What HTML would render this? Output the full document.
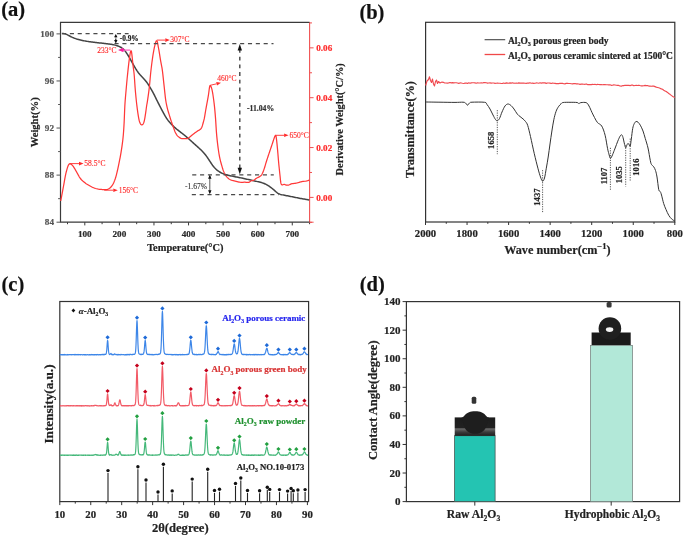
<!DOCTYPE html>
<html><head><meta charset="utf-8"><style>
html,body{margin:0;padding:0;background:#fff;}
svg{display:block;filter:blur(0.35px);}
text{font-family:"Liberation Serif", serif;}
</style></head><body>
<svg width="685" height="537" viewBox="0 0 685 537">
<rect width="685" height="537" fill="#fff"/>
<line x1="309.6" y1="22.3" x2="309.6" y2="222.2" stroke="#f05050" stroke-width="1.1"/>
<path d="M309.6,22.3 H60.5 V222.2 H309.6" fill="none" stroke="#3a3a3a" stroke-width="1.2"/>
<line x1="67.51" y1="222.2" x2="67.51" y2="224.2" stroke="#3a3a3a" stroke-width="1"/>
<line x1="84.8" y1="222.2" x2="84.8" y2="225.4" stroke="#3a3a3a" stroke-width="1"/>
<text x="84.8" y="237.3" font-size="9.2" font-weight="bold" fill="#2a2a2a" text-anchor="middle" stroke="#2a2a2a" stroke-width="0.2">100</text>
<line x1="102.09" y1="222.2" x2="102.09" y2="224.2" stroke="#3a3a3a" stroke-width="1"/>
<line x1="119.38" y1="222.2" x2="119.38" y2="225.4" stroke="#3a3a3a" stroke-width="1"/>
<text x="119.38" y="237.3" font-size="9.2" font-weight="bold" fill="#2a2a2a" text-anchor="middle" stroke="#2a2a2a" stroke-width="0.2">200</text>
<line x1="136.67" y1="222.2" x2="136.67" y2="224.2" stroke="#3a3a3a" stroke-width="1"/>
<line x1="153.96" y1="222.2" x2="153.96" y2="225.4" stroke="#3a3a3a" stroke-width="1"/>
<text x="153.96" y="237.3" font-size="9.2" font-weight="bold" fill="#2a2a2a" text-anchor="middle" stroke="#2a2a2a" stroke-width="0.2">300</text>
<line x1="171.25" y1="222.2" x2="171.25" y2="224.2" stroke="#3a3a3a" stroke-width="1"/>
<line x1="188.54" y1="222.2" x2="188.54" y2="225.4" stroke="#3a3a3a" stroke-width="1"/>
<text x="188.54" y="237.3" font-size="9.2" font-weight="bold" fill="#2a2a2a" text-anchor="middle" stroke="#2a2a2a" stroke-width="0.2">400</text>
<line x1="205.83" y1="222.2" x2="205.83" y2="224.2" stroke="#3a3a3a" stroke-width="1"/>
<line x1="223.12" y1="222.2" x2="223.12" y2="225.4" stroke="#3a3a3a" stroke-width="1"/>
<text x="223.12" y="237.3" font-size="9.2" font-weight="bold" fill="#2a2a2a" text-anchor="middle" stroke="#2a2a2a" stroke-width="0.2">500</text>
<line x1="240.41" y1="222.2" x2="240.41" y2="224.2" stroke="#3a3a3a" stroke-width="1"/>
<line x1="257.7" y1="222.2" x2="257.7" y2="225.4" stroke="#3a3a3a" stroke-width="1"/>
<text x="257.7" y="237.3" font-size="9.2" font-weight="bold" fill="#2a2a2a" text-anchor="middle" stroke="#2a2a2a" stroke-width="0.2">600</text>
<line x1="274.99" y1="222.2" x2="274.99" y2="224.2" stroke="#3a3a3a" stroke-width="1"/>
<line x1="292.28" y1="222.2" x2="292.28" y2="225.4" stroke="#3a3a3a" stroke-width="1"/>
<text x="292.28" y="237.3" font-size="9.2" font-weight="bold" fill="#2a2a2a" text-anchor="middle" stroke="#2a2a2a" stroke-width="0.2">700</text>
<line x1="309.57" y1="222.2" x2="309.57" y2="224.2" stroke="#3a3a3a" stroke-width="1"/>
<line x1="56.5" y1="222.2" x2="60.5" y2="222.2" stroke="#555" stroke-width="1"/>
<text x="54" y="225.3" font-size="9.2" font-weight="bold" fill="#555" text-anchor="end" stroke="#555" stroke-width="0.2">84</text>
<line x1="58.1" y1="198.66" x2="60.5" y2="198.66" stroke="#555" stroke-width="1"/>
<line x1="56.5" y1="175.12" x2="60.5" y2="175.12" stroke="#555" stroke-width="1"/>
<text x="54" y="178.22" font-size="9.2" font-weight="bold" fill="#555" text-anchor="end" stroke="#555" stroke-width="0.2">88</text>
<line x1="58.1" y1="151.58" x2="60.5" y2="151.58" stroke="#555" stroke-width="1"/>
<line x1="56.5" y1="128.04" x2="60.5" y2="128.04" stroke="#555" stroke-width="1"/>
<text x="54" y="131.14" font-size="9.2" font-weight="bold" fill="#555" text-anchor="end" stroke="#555" stroke-width="0.2">92</text>
<line x1="58.1" y1="104.5" x2="60.5" y2="104.5" stroke="#555" stroke-width="1"/>
<line x1="56.5" y1="80.96" x2="60.5" y2="80.96" stroke="#555" stroke-width="1"/>
<text x="54" y="84.06" font-size="9.2" font-weight="bold" fill="#555" text-anchor="end" stroke="#555" stroke-width="0.2">96</text>
<line x1="58.1" y1="57.42" x2="60.5" y2="57.42" stroke="#555" stroke-width="1"/>
<line x1="56.5" y1="33.88" x2="60.5" y2="33.88" stroke="#555" stroke-width="1"/>
<text x="54" y="36.98" font-size="9.2" font-weight="bold" fill="#555" text-anchor="end" stroke="#555" stroke-width="0.2">100</text>
<line x1="309.6" y1="222.33" x2="312" y2="222.33" stroke="#f05050" stroke-width="1"/>
<line x1="309.6" y1="197.4" x2="313.6" y2="197.4" stroke="#f05050" stroke-width="1"/>
<text x="316.3" y="200.5" font-size="9.1" font-weight="bold" fill="#ff2a2a" text-anchor="start" stroke="#ff2a2a" stroke-width="0.2">0.00</text>
<line x1="309.6" y1="172.47" x2="312" y2="172.47" stroke="#f05050" stroke-width="1"/>
<line x1="309.6" y1="147.55" x2="313.6" y2="147.55" stroke="#f05050" stroke-width="1"/>
<text x="316.3" y="150.65" font-size="9.1" font-weight="bold" fill="#ff2a2a" text-anchor="start" stroke="#ff2a2a" stroke-width="0.2">0.02</text>
<line x1="309.6" y1="122.62" x2="312" y2="122.62" stroke="#f05050" stroke-width="1"/>
<line x1="309.6" y1="97.7" x2="313.6" y2="97.7" stroke="#f05050" stroke-width="1"/>
<text x="316.3" y="100.8" font-size="9.1" font-weight="bold" fill="#ff2a2a" text-anchor="start" stroke="#ff2a2a" stroke-width="0.2">0.04</text>
<line x1="309.6" y1="72.78" x2="312" y2="72.78" stroke="#f05050" stroke-width="1"/>
<line x1="309.6" y1="47.85" x2="313.6" y2="47.85" stroke="#f05050" stroke-width="1"/>
<text x="316.3" y="50.95" font-size="9.1" font-weight="bold" fill="#ff2a2a" text-anchor="start" stroke="#ff2a2a" stroke-width="0.2">0.06</text>
<line x1="309.6" y1="22.92" x2="312" y2="22.92" stroke="#f05050" stroke-width="1"/>
<line x1="309.6" y1="222.2" x2="313.6" y2="222.2" stroke="#f05050" stroke-width="1"/>
<text x="185.3" y="251" font-size="10.4" font-weight="bold" fill="#222" text-anchor="middle" stroke="#222" stroke-width="0.2">Temperature(°C)</text>
<text x="38.2" y="122.3" font-size="10.6" font-weight="bold" fill="#222" text-anchor="middle" transform="rotate(-90 38.2 122.3)" stroke="#222" stroke-width="0.2">Weight(%)</text>
<text x="343.2" y="119.3" font-size="10.4" font-weight="bold" fill="#222" text-anchor="middle" transform="rotate(-90 343.2 119.3)" stroke="#222" stroke-width="0.2">Derivative Weight(°C/%)</text>
<text x="1.2" y="15.6" font-size="20.5" font-weight="bold" fill="#111" text-anchor="start" stroke="#111" stroke-width="0.2">(a)</text>
<path d="M61.8,33.5 L63.25,33.58 L63.99,33.68 L64.83,33.84 L65.72,34.09 L66.62,34.42 L67.51,34.83 L68.39,35.29 L69.26,35.77 L70.13,36.26 L71.02,36.72 L71.92,37.15 L72.83,37.55 L73.76,37.93 L74.7,38.28 L75.65,38.6 L76.6,38.92 L77.56,39.21 L78.52,39.49 L79.49,39.76 L80.46,40.01 L81.43,40.24 L82.41,40.47 L83.39,40.68 L84.37,40.87 L85.35,41.06 L86.34,41.23 L87.33,41.38 L88.32,41.53 L89.32,41.67 L90.31,41.81 L91.3,41.94 L92.3,42.06 L93.29,42.19 L94.29,42.31 L95.28,42.43 L96.28,42.54 L97.28,42.66 L98.27,42.78 L99.27,42.89 L100.26,43.01 L101.26,43.12 L102.26,43.24 L103.25,43.35 L104.25,43.46 L105.24,43.57 L106.24,43.68 L107.24,43.79 L108.23,43.91 L109.23,44.03 L110.22,44.17 L111.21,44.31 L112.2,44.47 L113.18,44.66 L114.16,44.87 L115.13,45.12 L116.09,45.39 L117.04,45.7 L117.98,46.04 L118.91,46.4 L119.82,46.8 L120.71,47.25 L121.56,47.75 L122.38,48.31 L123.14,48.94 L123.86,49.62 L124.53,50.35 L125.17,51.11 L125.77,51.91 L126.35,52.73 L126.9,53.56 L127.44,54.41 L127.97,55.26 L128.49,56.12 L129,56.98 L129.5,57.85 L130,58.72 L130.49,59.59 L130.98,60.46 L131.47,61.34 L131.96,62.21 L132.45,63.09 L132.94,63.96 L133.44,64.83 L133.93,65.7 L134.44,66.57 L134.95,67.43 L135.47,68.29 L135.99,69.15 L136.53,69.99 L137.07,70.83 L137.64,71.66 L138.21,72.48 L138.81,73.28 L139.44,74.06 L140.09,74.81 L140.77,75.55 L141.46,76.27 L142.16,76.99 L142.86,77.71 L143.54,78.44 L144.22,79.18 L144.88,79.93 L145.52,80.7 L146.14,81.49 L146.74,82.29 L147.32,83.11 L147.88,83.94 L148.42,84.78 L148.96,85.62 L149.49,86.47 L150.01,87.33 L150.53,88.18 L151.05,89.05 L151.56,89.91 L152.06,90.78 L152.55,91.65 L153.02,92.53 L153.49,93.42 L153.95,94.31 L154.4,95.21 L154.84,96.11 L155.29,97.01 L155.73,97.91 L156.17,98.81 L156.61,99.71 L157.06,100.6 L157.51,101.5 L157.96,102.39 L158.42,103.29 L158.87,104.18 L159.33,105.07 L159.78,105.97 L160.24,106.86 L160.7,107.75 L161.16,108.64 L161.63,109.53 L162.1,110.41 L162.57,111.3 L163.04,112.18 L163.52,113.07 L164,113.94 L164.49,114.82 L164.98,115.69 L165.49,116.55 L166.02,117.41 L166.56,118.25 L167.13,119.07 L167.72,119.88 L168.33,120.67 L168.97,121.44 L169.61,122.21 L170.28,122.96 L170.95,123.7 L171.63,124.44 L172.32,125.16 L173.03,125.87 L173.75,126.57 L174.48,127.25 L175.23,127.92 L175.99,128.57 L176.76,129.21 L177.54,129.84 L178.33,130.46 L179.12,131.07 L179.92,131.68 L180.71,132.29 L181.51,132.9 L182.3,133.52 L183.09,134.13 L183.88,134.76 L184.66,135.39 L185.43,136.02 L186.2,136.66 L186.97,137.31 L187.73,137.96 L188.49,138.62 L189.24,139.28 L189.98,139.95 L190.72,140.63 L191.46,141.31 L192.2,141.99 L192.94,142.66 L193.68,143.34 L194.43,144 L195.18,144.67 L195.93,145.34 L196.68,146 L197.43,146.67 L198.17,147.34 L198.91,148.02 L199.65,148.7 L200.38,149.38 L201.1,150.07 L201.82,150.78 L202.52,151.49 L203.21,152.22 L203.88,152.96 L204.53,153.72 L205.17,154.49 L205.79,155.28 L206.39,156.08 L206.97,156.9 L207.55,157.72 L208.11,158.55 L208.66,159.38 L209.21,160.22 L209.76,161.06 L210.3,161.91 L210.85,162.75 L211.4,163.58 L211.96,164.41 L212.53,165.23 L213.13,166.04 L213.75,166.82 L214.4,167.58 L215.08,168.31 L215.79,169.01 L216.53,169.68 L217.3,170.32 L218.09,170.92 L218.92,171.49 L219.76,172.02 L220.63,172.51 L221.51,172.97 L222.42,173.38 L223.35,173.76 L224.29,174.1 L225.24,174.41 L226.19,174.7 L227.16,174.98 L228.13,175.23 L229.1,175.47 L230.08,175.7 L231.06,175.91 L232.04,176.12 L233.02,176.32 L234,176.51 L234.99,176.71 L235.97,176.9 L236.95,177.09 L237.94,177.29 L238.92,177.48 L239.9,177.68 L240.89,177.88 L241.87,178.09 L242.85,178.29 L243.83,178.5 L244.81,178.72 L245.79,178.93 L246.77,179.15 L247.74,179.38 L248.72,179.6 L249.7,179.82 L250.68,180.05 L251.65,180.27 L252.63,180.49 L253.61,180.71 L254.59,180.94 L255.56,181.16 L256.54,181.39 L257.52,181.62 L258.49,181.85 L259.46,182.09 L260.44,182.33 L261.4,182.59 L262.36,182.87 L263.31,183.19 L264.24,183.54 L265.15,183.94 L266.04,184.39 L266.91,184.87 L267.77,185.39 L268.61,185.93 L269.45,186.48 L270.27,187.05 L271.08,187.64 L271.87,188.25 L272.65,188.88 L273.42,189.52 L274.18,190.18 L274.93,190.85 L275.67,191.51 L276.43,192.15 L277.2,192.76 L278.01,193.3 L278.86,193.75 L279.75,194.12 L280.68,194.42 L281.64,194.66 L282.61,194.87 L283.59,195.06 L284.57,195.26 L285.56,195.45 L286.54,195.64 L287.52,195.83 L288.51,196.03 L289.49,196.22 L290.47,196.42 L291.46,196.62 L292.44,196.82 L293.42,197.02 L294.4,197.22 L295.39,197.42 L296.37,197.62 L297.35,197.82 L298.33,198.02 L299.32,198.21 L300.3,198.4 L301.29,198.59 L302.27,198.77 L303.26,198.94 L304.24,199.11 L305.21,199.27 L306.14,199.42 L307.01,199.55 L307.75,199.67 L309.2,199.9" fill="none" stroke="#444" stroke-width="1.5" stroke-linejoin="round"/>
<path d="M60.7,201 L60.9,199.96 L61.08,199.03 L61.27,198.05 L61.46,197.07 L61.65,196.08 L61.83,195.1 L62.02,194.12 L62.21,193.14 L62.4,192.15 L62.59,191.17 L62.77,190.19 L62.96,189.2 L63.14,188.22 L63.32,187.23 L63.5,186.25 L63.67,185.26 L63.84,184.27 L64.01,183.29 L64.19,182.3 L64.36,181.32 L64.53,180.33 L64.71,179.35 L64.89,178.36 L65.08,177.38 L65.27,176.39 L65.47,175.41 L65.68,174.43 L65.9,173.46 L66.13,172.48 L66.37,171.51 L66.62,170.54 L66.88,169.58 L67.15,168.61 L67.44,167.66 L67.76,166.71 L68.12,165.78 L68.56,164.89 L69.13,164.14 L69.88,163.76 L70.71,163.92 L71.48,164.47 L72.17,165.18 L72.83,165.94 L73.44,166.73 L74.01,167.55 L74.54,168.4 L75.04,169.26 L75.54,170.13 L76.03,171.01 L76.53,171.87 L77.02,172.74 L77.51,173.62 L77.99,174.5 L78.47,175.38 L78.96,176.25 L79.47,177.11 L80.01,177.95 L80.61,178.75 L81.26,179.51 L81.96,180.22 L82.69,180.9 L83.46,181.55 L84.23,182.19 L85.01,182.81 L85.8,183.41 L86.63,183.98 L87.48,184.5 L88.35,185.01 L89.21,185.51 L90.09,186 L90.97,186.47 L91.86,186.94 L92.75,187.38 L93.67,187.79 L94.59,188.16 L95.54,188.48 L96.51,188.74 L97.48,188.96 L98.47,189.13 L99.46,189.27 L100.45,189.39 L101.45,189.49 L102.45,189.58 L103.44,189.66 L104.44,189.71 L105.44,189.71 L106.43,189.6 L107.4,189.38 L108.32,189.01 L109.18,188.52 L109.97,187.92 L110.71,187.25 L111.39,186.52 L112.01,185.73 L112.56,184.9 L113.06,184.03 L113.51,183.14 L113.93,182.23 L114.31,181.31 L114.67,180.38 L115.01,179.43 L115.34,178.49 L115.64,177.53 L115.93,176.57 L116.2,175.61 L116.46,174.64 L116.7,173.67 L116.94,172.7 L117.17,171.73 L117.39,170.75 L117.6,169.77 L117.82,168.79 L118.03,167.82 L118.24,166.84 L118.45,165.86 L118.66,164.88 L118.86,163.9 L119.06,162.92 L119.26,161.94 L119.46,160.96 L119.65,159.97 L119.84,158.99 L120.03,158.01 L120.21,157.02 L120.39,156.04 L120.57,155.05 L120.74,154.07 L120.91,153.08 L121.08,152.09 L121.24,151.11 L121.4,150.12 L121.55,149.13 L121.71,148.14 L121.86,147.15 L122,146.16 L122.14,145.17 L122.28,144.18 L122.41,143.18 L122.54,142.19 L122.66,141.2 L122.77,140.2 L122.89,139.21 L122.99,138.21 L123.09,137.22 L123.19,136.22 L123.28,135.22 L123.37,134.23 L123.45,133.23 L123.52,132.23 L123.6,131.23 L123.67,130.23 L123.74,129.23 L123.8,128.24 L123.86,127.24 L123.92,126.24 L123.98,125.24 L124.04,124.24 L124.1,123.24 L124.15,122.24 L124.19,121.24 L124.24,120.24 L124.28,119.24 L124.32,118.24 L124.36,117.24 L124.4,116.24 L124.44,115.24 L124.48,114.24 L124.52,113.24 L124.56,112.24 L124.6,111.24 L124.64,110.24 L124.68,109.24 L124.73,108.24 L124.78,107.24 L124.83,106.24 L124.88,105.24 L124.94,104.24 L125.01,103.24 L125.07,102.24 L125.14,101.24 L125.22,100.24 L125.3,99.25 L125.38,98.25 L125.46,97.25 L125.55,96.25 L125.63,95.25 L125.72,94.26 L125.81,93.26 L125.9,92.26 L125.99,91.27 L126.08,90.27 L126.16,89.27 L126.25,88.27 L126.34,87.28 L126.43,86.28 L126.52,85.28 L126.61,84.29 L126.7,83.29 L126.79,82.29 L126.88,81.3 L126.98,80.3 L127.07,79.3 L127.17,78.31 L127.27,77.31 L127.37,76.31 L127.47,75.32 L127.57,74.32 L127.67,73.33 L127.78,72.33 L127.88,71.34 L127.99,70.34 L128.09,69.34 L128.2,68.35 L128.31,67.35 L128.42,66.36 L128.54,65.36 L128.65,64.37 L128.77,63.38 L128.89,62.38 L129.02,61.39 L129.15,60.4 L129.28,59.41 L129.42,58.41 L129.57,57.42 L129.71,56.43 L129.87,55.44 L130.03,54.46 L130.19,53.47 L130.38,52.49 L130.59,51.54 L130.88,50.82 L131.19,50.78 L131.43,51.46 L131.59,52.41 L131.72,53.4 L131.85,54.39 L131.97,55.38 L132.09,56.38 L132.2,57.37 L132.3,58.37 L132.41,59.36 L132.51,60.36 L132.61,61.36 L132.71,62.35 L132.82,63.35 L132.93,64.34 L133.04,65.34 L133.16,66.33 L133.29,67.32 L133.42,68.32 L133.55,69.31 L133.68,70.3 L133.8,71.29 L133.92,72.29 L134.03,73.28 L134.13,74.28 L134.22,75.28 L134.31,76.27 L134.39,77.27 L134.46,78.27 L134.53,79.27 L134.6,80.27 L134.67,81.27 L134.74,82.26 L134.8,83.26 L134.87,84.26 L134.94,85.26 L135.01,86.26 L135.08,87.26 L135.16,88.26 L135.24,89.25 L135.32,90.25 L135.41,91.25 L135.5,92.25 L135.59,93.24 L135.68,94.24 L135.78,95.24 L135.87,96.23 L135.97,97.23 L136.07,98.23 L136.17,99.22 L136.27,100.22 L136.38,101.21 L136.48,102.21 L136.59,103.2 L136.71,104.2 L136.82,105.19 L136.94,106.19 L137.07,107.18 L137.19,108.17 L137.32,109.16 L137.46,110.16 L137.59,111.15 L137.73,112.14 L137.88,113.13 L138.03,114.12 L138.19,115.11 L138.35,116.1 L138.52,117.08 L138.7,118.07 L138.89,119.05 L139.11,120.03 L139.35,121 L139.64,121.95 L139.99,122.89 L140.43,123.78 L140.99,124.54 L141.71,124.94 L142.46,124.74 L143.07,124.07 L143.53,123.2 L143.88,122.27 L144.17,121.31 L144.4,120.34 L144.6,119.36 L144.79,118.38 L144.96,117.39 L145.12,116.4 L145.27,115.41 L145.43,114.43 L145.59,113.44 L145.73,112.45 L145.87,111.45 L146,110.46 L146.13,109.47 L146.26,108.48 L146.39,107.48 L146.53,106.49 L146.68,105.5 L146.84,104.52 L147.02,103.53 L147.19,102.54 L147.36,101.56 L147.51,100.57 L147.66,99.58 L147.81,98.59 L147.95,97.6 L148.1,96.61 L148.24,95.62 L148.38,94.63 L148.52,93.63 L148.66,92.64 L148.79,91.65 L148.92,90.66 L149.04,89.66 L149.16,88.67 L149.28,87.68 L149.39,86.68 L149.49,85.68 L149.59,84.69 L149.69,83.69 L149.78,82.7 L149.87,81.7 L149.96,80.7 L150.05,79.7 L150.13,78.71 L150.22,77.71 L150.31,76.71 L150.41,75.72 L150.5,74.72 L150.6,73.72 L150.7,72.73 L150.81,71.73 L150.92,70.74 L151.03,69.74 L151.15,68.75 L151.27,67.75 L151.39,66.76 L151.51,65.77 L151.63,64.77 L151.76,63.78 L151.89,62.79 L152.02,61.79 L152.15,60.8 L152.28,59.81 L152.42,58.82 L152.56,57.83 L152.71,56.84 L152.86,55.85 L153.01,54.86 L153.18,53.87 L153.35,52.88 L153.52,51.9 L153.71,50.92 L153.89,49.93 L154.09,48.95 L154.28,47.97 L154.49,46.99 L154.7,46.01 L154.92,45.03 L155.16,44.06 L155.41,43.09 L155.7,42.14 L156.07,41.28 L156.54,40.81 L157.02,41.07 L157.35,41.87 L157.58,42.83 L157.77,43.81 L157.94,44.8 L158.1,45.79 L158.28,46.77 L158.46,47.76 L158.64,48.74 L158.82,49.73 L159,50.71 L159.16,51.7 L159.32,52.69 L159.48,53.68 L159.64,54.66 L159.8,55.65 L159.95,56.64 L160.11,57.63 L160.27,58.62 L160.44,59.61 L160.61,60.59 L160.79,61.58 L160.98,62.56 L161.17,63.54 L161.36,64.53 L161.55,65.51 L161.73,66.49 L161.9,67.48 L162.07,68.47 L162.22,69.46 L162.36,70.45 L162.49,71.44 L162.61,72.43 L162.73,73.43 L162.85,74.42 L162.96,75.42 L163.07,76.41 L163.18,77.41 L163.29,78.4 L163.39,79.4 L163.5,80.39 L163.6,81.39 L163.71,82.38 L163.82,83.38 L163.93,84.37 L164.04,85.37 L164.15,86.36 L164.26,87.36 L164.37,88.35 L164.47,89.35 L164.58,90.34 L164.68,91.34 L164.79,92.34 L164.9,93.33 L165.01,94.33 L165.12,95.32 L165.23,96.32 L165.35,97.31 L165.47,98.3 L165.61,99.29 L165.75,100.29 L165.9,101.28 L166.06,102.26 L166.24,103.25 L166.43,104.23 L166.64,105.21 L166.85,106.19 L167.08,107.16 L167.31,108.14 L167.56,109.11 L167.81,110.07 L168.09,111.04 L168.37,112 L168.67,112.95 L168.96,113.91 L169.26,114.87 L169.55,115.82 L169.83,116.78 L170.13,117.74 L170.42,118.7 L170.73,119.65 L171.04,120.6 L171.36,121.55 L171.7,122.49 L172.04,123.43 L172.38,124.38 L172.71,125.32 L173.04,126.27 L173.37,127.21 L173.7,128.16 L174.04,129.1 L174.38,130.04 L174.73,130.98 L175.11,131.9 L175.53,132.81 L175.99,133.69 L176.51,134.55 L177.09,135.36 L177.76,136.1 L178.49,136.77 L179.28,137.38 L180.13,137.91 L181.03,138.33 L181.98,138.58 L182.97,138.68 L183.96,138.7 L184.97,138.7 L185.96,138.67 L186.95,138.57 L187.89,138.3 L188.74,137.82 L189.52,137.21 L190.28,136.56 L191.05,135.91 L191.82,135.28 L192.6,134.66 L193.4,134.05 L194.2,133.45 L195,132.85 L195.81,132.26 L196.63,131.68 L197.45,131.11 L198.3,130.58 L199.17,130.09 L200.02,129.58 L200.77,128.96 L201.36,128.18 L201.8,127.3 L202.16,126.36 L202.47,125.41 L202.74,124.45 L202.99,123.48 L203.24,122.51 L203.51,121.55 L203.78,120.58 L204.03,119.61 L204.26,118.64 L204.46,117.66 L204.64,116.67 L204.81,115.69 L204.98,114.7 L205.14,113.71 L205.3,112.72 L205.46,111.74 L205.62,110.75 L205.78,109.76 L205.95,108.77 L206.12,107.79 L206.3,106.8 L206.48,105.82 L206.67,104.83 L206.85,103.85 L207.04,102.87 L207.23,101.88 L207.41,100.9 L207.6,99.92 L207.78,98.93 L207.96,97.95 L208.13,96.96 L208.3,95.97 L208.45,94.99 L208.6,94 L208.73,93 L208.86,92.01 L208.99,91.02 L209.12,90.02 L209.25,89.03 L209.39,88.04 L209.55,87.06 L209.77,86.14 L210.13,85.59 L210.58,85.77 L210.99,86.52 L211.35,87.44 L211.66,88.39 L211.93,89.35 L212.16,90.33 L212.36,91.31 L212.54,92.29 L212.71,93.28 L212.87,94.26 L213.02,95.25 L213.17,96.24 L213.31,97.24 L213.45,98.23 L213.59,99.22 L213.72,100.21 L213.85,101.2 L213.97,102.2 L214.1,103.19 L214.21,104.18 L214.33,105.18 L214.44,106.17 L214.55,107.17 L214.65,108.16 L214.75,109.16 L214.84,110.16 L214.93,111.15 L215.02,112.15 L215.11,113.15 L215.19,114.15 L215.27,115.14 L215.35,116.14 L215.43,117.14 L215.51,118.14 L215.58,119.14 L215.65,120.13 L215.72,121.13 L215.79,122.13 L215.85,123.13 L215.91,124.13 L215.97,125.13 L216.03,126.13 L216.09,127.13 L216.16,128.13 L216.22,129.13 L216.29,130.13 L216.36,131.12 L216.43,132.12 L216.51,133.12 L216.6,134.12 L216.68,135.12 L216.77,136.11 L216.87,137.11 L216.97,138.1 L217.07,139.1 L217.17,140.1 L217.28,141.09 L217.4,142.09 L217.52,143.08 L217.64,144.07 L217.76,145.07 L217.88,146.06 L218.01,147.05 L218.14,148.05 L218.27,149.04 L218.41,150.03 L218.55,151.02 L218.7,152.01 L218.85,153 L219.01,153.99 L219.18,154.98 L219.36,155.96 L219.55,156.94 L219.76,157.92 L219.98,158.9 L220.21,159.87 L220.45,160.84 L220.7,161.81 L220.97,162.78 L221.23,163.74 L221.5,164.71 L221.78,165.67 L222.06,166.63 L222.34,167.59 L222.63,168.55 L222.94,169.5 L223.27,170.44 L223.63,171.38 L224.02,172.3 L224.45,173.2 L224.92,174.09 L225.43,174.95 L225.98,175.78 L226.58,176.58 L227.23,177.34 L227.93,178.05 L228.68,178.7 L229.5,179.27 L230.38,179.74 L231.3,180.12 L232.25,180.42 L233.22,180.67 L234.2,180.9 L235.17,181.12 L236.15,181.35 L237.12,181.59 L238.09,181.83 L239.07,182.05 L240.05,182.21 L241.05,182.3 L242.05,182.31 L243.04,182.27 L244.04,182.23 L245.04,182.24 L246.04,182.32 L247.03,182.43 L248.02,182.48 L248.95,182.31 L249.75,181.84 L250.48,181.21 L251.29,180.74 L252.23,180.53 L253.2,180.37 L254.11,180.03 L254.9,179.47 L255.66,178.83 L256.46,178.25 L257.33,177.77 L258.23,177.32 L259.12,176.87 L259.99,176.37 L260.78,175.78 L261.45,175.07 L261.98,174.23 L262.43,173.34 L262.83,172.42 L263.21,171.5 L263.58,170.57 L263.92,169.62 L264.24,168.67 L264.54,167.72 L264.83,166.76 L265.11,165.8 L265.39,164.84 L265.67,163.88 L265.96,162.92 L266.25,161.96 L266.55,161.01 L266.85,160.05 L267.16,159.1 L267.47,158.15 L267.79,157.2 L268.1,156.25 L268.42,155.3 L268.74,154.35 L269.06,153.4 L269.38,152.45 L269.7,151.51 L270.02,150.56 L270.34,149.61 L270.66,148.66 L270.99,147.72 L271.31,146.77 L271.63,145.82 L271.94,144.87 L272.26,143.92 L272.57,142.97 L272.88,142.01 L273.19,141.06 L273.5,140.11 L273.82,139.16 L274.14,138.22 L274.48,137.27 L274.85,136.36 L275.28,135.61 L275.72,135.43 L276.01,135.98 L276.16,136.9 L276.29,137.89 L276.43,138.88 L276.56,139.88 L276.68,140.87 L276.79,141.86 L276.89,142.86 L277,143.86 L277.1,144.85 L277.19,145.85 L277.29,146.84 L277.38,147.84 L277.48,148.84 L277.57,149.83 L277.66,150.83 L277.74,151.83 L277.83,152.83 L277.91,153.82 L277.99,154.82 L278.08,155.82 L278.16,156.82 L278.24,157.81 L278.32,158.81 L278.41,159.81 L278.5,160.81 L278.58,161.8 L278.67,162.8 L278.77,163.8 L278.86,164.79 L278.96,165.79 L279.06,166.79 L279.17,167.78 L279.27,168.78 L279.38,169.77 L279.48,170.77 L279.59,171.76 L279.69,172.76 L279.8,173.76 L279.91,174.75 L280.02,175.75 L280.13,176.74 L280.23,177.74 L280.33,178.73 L280.43,179.73 L280.53,180.72 L280.64,181.72 L280.8,182.71 L281.04,183.66 L281.46,184.48 L282.1,184.9 L282.88,184.77 L283.73,184.48 L284.63,184.49 L285.56,184.79 L286.5,185.09 L287.46,185.2 L288.42,185.06 L289.36,184.74 L290.27,184.33 L291.19,183.95 L292.14,183.7 L293.13,183.54 L294.12,183.41 L295.11,183.27 L296.1,183.1 L297.08,182.91 L298.05,182.68 L299.01,182.4 L299.96,182.08 L300.91,181.77 L301.88,181.54 L302.87,181.4 L303.86,181.33 L304.86,181.25 L305.84,181.09 L306.81,180.85 L307.76,180.57 L308.58,180.3 L309.2,180.1" fill="none" stroke="#ff3838" stroke-width="1.25" stroke-linejoin="round"/>
<line x1="62" y1="33.6" x2="128.6" y2="33.6" stroke="#4a4a4a" stroke-width="1.3" stroke-dasharray="4.1 3.75"/>
<line x1="114.5" y1="43.6" x2="273.5" y2="43.6" stroke="#4a4a4a" stroke-width="1.3" stroke-dasharray="4.1 3.75"/>
<line x1="192.2" y1="174.9" x2="273.8" y2="174.9" stroke="#4a4a4a" stroke-width="1.3" stroke-dasharray="4.1 3.75"/>
<line x1="191.8" y1="194.6" x2="278.7" y2="194.6" stroke="#4a4a4a" stroke-width="1.3" stroke-dasharray="4.1 3.75"/>
<line x1="239.8" y1="49" x2="239.8" y2="169" stroke="#444" stroke-width="1.4" stroke-dasharray="3.8 3.9"/>
<path d="M239.8,44 L237.6,50.5 L242,50.5 Z" fill="#111"/>
<path d="M239.8,174.3 L237.6,167.8 L242,167.8 Z" fill="#111"/>
<line x1="115.8" y1="36" x2="115.8" y2="41.5" stroke="#222" stroke-width="1.2" stroke-dasharray="1.6 1"/>
<path d="M115.8,33.9 L114.1,37.3 L117.5,37.3 Z M115.8,43.5 L114.1,40.1 L117.5,40.1 Z" fill="#111"/>
<line x1="209.8" y1="176" x2="209.8" y2="193" stroke="#333" stroke-width="0.8"/>
<path d="M209.8,174.8 L208.1,178.8 L211.5,178.8 Z M209.8,194.2 L208.1,190.2 L211.5,190.2 Z" fill="#111"/>
<text x="119.8" y="41.2" font-size="7.3" font-weight="bold" fill="#222" text-anchor="start" stroke="#222" stroke-width="0.2">-0.9%</text>
<text x="247" y="111.2" font-size="7.7" font-weight="bold" fill="#333" text-anchor="start" stroke="#333" stroke-width="0.2">-11.04%</text>
<text x="185" y="188.6" font-size="7.6" font-weight="normal" fill="#333" text-anchor="start" stroke="#333" stroke-width="0.12">-1.67%</text>
<line x1="69.5" y1="163.6" x2="79" y2="163.6" stroke="#ff2a2a" stroke-width="0.9"/><path d="M83.5,163.6 L79,165.4 L79,161.8 Z" fill="#ff2a2a"/>
<text x="84.3" y="166.3" font-size="7.5" font-weight="normal" fill="#ff2a2a" text-anchor="start" stroke="#ff2a2a" stroke-width="0.12">58.5°C</text>
<line x1="104.2" y1="190.2" x2="113.3" y2="190.2" stroke="#ff2a2a" stroke-width="0.9"/><path d="M117.8,190.2 L113.3,192 L113.3,188.4 Z" fill="#ff2a2a"/>
<text x="118.8" y="192.9" font-size="7.5" font-weight="normal" fill="#ff2a2a" text-anchor="start" stroke="#ff2a2a" stroke-width="0.12">156°C</text>
<line x1="130.3" y1="50.1" x2="123.2" y2="50.1" stroke="#ff66c4" stroke-width="1.3"/><path d="M118.2,50.1 L123.2,48.2 L123.2,52 Z" fill="#ff66c4"/>
<path d="M118.2,50.1 L123.5,48.1 L123.5,52.1 Z" fill="#ff1aa0"/>
<text x="116.5" y="52.8" font-size="7.5" font-weight="normal" fill="#ff2a2a" text-anchor="end" stroke="#ff2a2a" stroke-width="0.12">233°C</text>
<line x1="156.8" y1="40.1" x2="165.3" y2="40.1" stroke="#ff2a2a" stroke-width="0.9"/><path d="M169.8,40.1 L165.3,41.9 L165.3,38.3 Z" fill="#ff2a2a"/>
<text x="170.3" y="41.8" font-size="7.5" font-weight="normal" fill="#ff2a2a" text-anchor="start" stroke="#ff2a2a" stroke-width="0.12">307°C</text>
<line x1="209.8" y1="85.4" x2="216.62" y2="83.82" stroke="#ff2a2a" stroke-width="0.9"/><path d="M221,82.8 L217.02,85.57 L216.21,82.06 Z" fill="#ff2a2a"/>
<text x="217.2" y="80.8" font-size="7.5" font-weight="normal" fill="#ff2a2a" text-anchor="start" stroke="#ff2a2a" stroke-width="0.12">460°C</text>
<line x1="275.5" y1="135.3" x2="284.1" y2="135.3" stroke="#ff2a2a" stroke-width="0.9"/><path d="M288.6,135.3 L284.1,137.1 L284.1,133.5 Z" fill="#ff2a2a"/>
<text x="289.6" y="137.8" font-size="7.5" font-weight="normal" fill="#ff2a2a" text-anchor="start" stroke="#ff2a2a" stroke-width="0.12">650°C</text>
<rect x="425.6" y="22.3" width="249.2" height="199.7" fill="none" stroke="#333" stroke-width="1.2"/>
<line x1="674.8" y1="222" x2="674.8" y2="225" stroke="#333" stroke-width="1"/>
<text x="674.8" y="237.3" font-size="10.7" font-weight="bold" fill="#222" text-anchor="middle" stroke="#222" stroke-width="0.2">800</text>
<line x1="654.02" y1="222" x2="654.02" y2="223.8" stroke="#333" stroke-width="1"/>
<line x1="633.25" y1="222" x2="633.25" y2="225" stroke="#333" stroke-width="1"/>
<text x="633.25" y="237.3" font-size="10.7" font-weight="bold" fill="#222" text-anchor="middle" stroke="#222" stroke-width="0.2">1000</text>
<line x1="612.48" y1="222" x2="612.48" y2="223.8" stroke="#333" stroke-width="1"/>
<line x1="591.7" y1="222" x2="591.7" y2="225" stroke="#333" stroke-width="1"/>
<text x="591.7" y="237.3" font-size="10.7" font-weight="bold" fill="#222" text-anchor="middle" stroke="#222" stroke-width="0.2">1200</text>
<line x1="570.92" y1="222" x2="570.92" y2="223.8" stroke="#333" stroke-width="1"/>
<line x1="550.15" y1="222" x2="550.15" y2="225" stroke="#333" stroke-width="1"/>
<text x="550.15" y="237.3" font-size="10.7" font-weight="bold" fill="#222" text-anchor="middle" stroke="#222" stroke-width="0.2">1400</text>
<line x1="529.38" y1="222" x2="529.38" y2="223.8" stroke="#333" stroke-width="1"/>
<line x1="508.6" y1="222" x2="508.6" y2="225" stroke="#333" stroke-width="1"/>
<text x="508.6" y="237.3" font-size="10.7" font-weight="bold" fill="#222" text-anchor="middle" stroke="#222" stroke-width="0.2">1600</text>
<line x1="487.82" y1="222" x2="487.82" y2="223.8" stroke="#333" stroke-width="1"/>
<line x1="467.05" y1="222" x2="467.05" y2="225" stroke="#333" stroke-width="1"/>
<text x="467.05" y="237.3" font-size="10.7" font-weight="bold" fill="#222" text-anchor="middle" stroke="#222" stroke-width="0.2">1800</text>
<line x1="446.27" y1="222" x2="446.27" y2="223.8" stroke="#333" stroke-width="1"/>
<line x1="425.5" y1="222" x2="425.5" y2="225" stroke="#333" stroke-width="1"/>
<text x="425.5" y="237.3" font-size="10.7" font-weight="bold" fill="#222" text-anchor="middle" stroke="#222" stroke-width="0.2">2000</text>
<text x="557.4" y="253.5" font-size="12.2" font-weight="bold" fill="#222" text-anchor="middle" stroke="#222" stroke-width="0.2">Wave number(cm<tspan font-size="8.6" dy="-4.2">−1</tspan><tspan dy="4.2">)</tspan></text>
<text x="413.8" y="129.5" font-size="12.3" font-weight="bold" fill="#222" text-anchor="middle" transform="rotate(-90 413.8 129.5)" stroke="#222" stroke-width="0.2">Transmittance(%)</text>
<text x="359.4" y="19.4" font-size="20.5" font-weight="bold" fill="#111" text-anchor="start" stroke="#111" stroke-width="0.2">(b)</text>
<line x1="484.6" y1="39.7" x2="505.2" y2="39.7" stroke="#444" stroke-width="1.1"/>
<line x1="484.6" y1="54.5" x2="505.2" y2="54.5" stroke="#f04848" stroke-width="1.3"/>
<text x="507.9" y="44" font-size="9.5" font-weight="bold" fill="#222" text-anchor="start" stroke="#222" stroke-width="0.2">Al<tspan font-size="6.17" dy="2.38">2</tspan><tspan dy="-2.38">O</tspan><tspan font-size="6.17" dy="2.38">3</tspan><tspan dy="-2.38"> porous green body</tspan></text>
<text x="507.9" y="58.8" font-size="9.5" font-weight="bold" fill="#222" text-anchor="start" stroke="#222" stroke-width="0.2">Al<tspan font-size="6.17" dy="2.38">2</tspan><tspan dy="-2.38">O</tspan><tspan font-size="6.17" dy="2.38">3</tspan><tspan dy="-2.38"> porous ceramic sintered at 1500°C</tspan></text>
<path d="M425.6,85.5 L427,81 L428.5,79.5 L429.5,76.8 L430.5,80.5 L431.5,82.5 L432.5,79 L433.5,84 L434.5,86 L435.5,81.5 L436.5,80 L437.5,83.5 L438.5,81.5 L440,83 L442,82.08 L443.33,82.32 L444.67,83.04 L446,83 L447.33,83.16 L448.67,82.87 L450,82.49 L451.25,82.86 L452.5,82.58 L453.75,82.9 L455,82.7 L456.25,82.76 L457.5,83.05 L458.75,83.38 L460,82.94 L461.25,82.99 L462.5,83.25 L463.75,83.46 L465,83.18 L466.25,83.03 L467.5,83.42 L468.75,82.75 L470,83.3 L471.25,82.88 L472.5,82.76 L473.75,82.73 L475,82.84 L476.25,83.18 L477.5,82.71 L478.75,82.98 L480,83 L481.25,82.83 L482.5,82.97 L483.75,82.65 L485,82.67 L486.25,82.79 L487.5,83.14 L488.75,82.98 L490,82.92 L491.25,83.13 L492.5,83.05 L493.75,82.97 L495,83.33 L496.25,83.28 L497.5,82.98 L498.75,83.23 L500,83.22 L501.25,83.45 L502.5,83.34 L503.75,83.01 L505,83.49 L506.25,82.87 L507.5,83.07 L508.75,83.29 L510,82.86 L511.25,83.08 L512.5,82.75 L513.75,83.18 L515,83.24 L516.25,83.09 L517.5,83.29 L518.75,82.88 L520,83.14 L521.25,83.07 L522.5,83.07 L523.75,82.99 L525,83.26 L526.25,83.34 L527.5,83.02 L528.75,83.16 L530,82.74 L531.25,83.2 L532.5,83.17 L533.75,83.41 L535,83.3 L536.25,82.93 L537.5,83.01 L538.75,83.21 L540,82.77 L541.25,83.09 L542.5,82.91 L543.75,82.89 L545,82.87 L546.25,83.38 L547.5,82.95 L548.75,83.05 L550,83.17 L551.25,83.53 L552.5,82.99 L553.75,83.27 L555,83.36 L556.25,83.61 L557.5,83.59 L558.75,83.64 L560,83.24 L561.25,83.38 L562.5,83.38 L563.75,83.78 L565,83.87 L566.25,83.34 L567.5,83.4 L568.75,83.47 L570,83.51 L571.25,83.73 L572.5,83.84 L573.75,83.65 L575,83.5 L576.25,83.83 L577.5,83.83 L578.75,84.01 L580,84.32 L581.25,84.18 L582.5,84.11 L583.75,84.23 L585,84.32 L586.25,83.94 L587.5,84.58 L588.75,84.55 L590,84.66 L591.25,84.66 L592.5,84.42 L593.75,84.48 L595,84.32 L596.25,84.74 L597.5,84.39 L598.75,84.45 L600,84.6 L601.25,84.6 L602.5,84.75 L603.75,84.59 L605,84.58 L606.25,84.72 L607.5,84.72 L608.75,84.94 L610,84.73 L611.25,85.36 L612.5,85.21 L613.75,84.92 L615,85.03 L616.25,85.24 L617.5,85.4 L618.75,85.39 L620,86.04 L621.25,86.1 L622.5,85.68 L623.75,85.64 L625,85.31 L626.25,85.27 L627.5,85.39 L628.75,85.29 L630,85.63 L631.25,85.18 L632.5,85.1 L633.75,85.77 L635,85.49 L636.25,85.24 L637.5,85.53 L638.75,85.19 L640,85.55 L641.25,85.88 L642.5,85.82 L643.75,85.72 L645,85.43 L646.25,85.61 L647.5,85.57 L648.75,86.09 L650,86.02 L651.25,86.3 L652.5,86.08 L653.75,86.11 L655,86.62 L656.25,87.14 L657.5,87.45 L658.75,87.81 L660,88.22 L661.25,88.92 L662.5,89.31 L663.75,90.26 L665,90.9 L666.25,91.55 L667.5,92.42 L668.75,93.47 L670,94.33 L671.6,95.63 L673.2,96.82 L674.8,97.5" fill="none" stroke="#f04a50" stroke-width="1.15" stroke-linejoin="round"/>
<path d="M425.6,102 C428,102.03 435.1,102.13 440,102.2 C444.9,102.27 451.17,102.4 455,102.4 C458.83,102.4 461.25,102.1 463,102.2 C464.75,102.3 464.75,102.5 465.5,103 C466.25,103.5 466.83,105.2 467.5,105.2 C468.17,105.2 468.75,103.5 469.5,103 C470.25,102.5 469.48,102.32 472,102.2 C474.52,102.08 482.1,101.92 484.6,102.3 C487.1,102.68 486.1,103.38 487,104.5 C487.9,105.62 489,107.25 490,109 C491,110.75 492.08,113.25 493,115 C493.92,116.75 494.78,118.53 495.5,119.5 C496.22,120.47 496.63,120.97 497.3,120.8 C497.97,120.63 498.72,119.97 499.5,118.5 C500.28,117.03 501.08,114.08 502,112 C502.92,109.92 504.02,107.33 505,106 C505.98,104.67 506.9,104.08 507.9,104 C508.9,103.92 509.98,104.67 511,105.5 C512.02,106.33 512.93,107.55 514,109 C515.07,110.45 516.4,112.95 517.4,114.2 C518.4,115.45 519.07,115.72 520,116.5 C520.93,117.28 522.08,118.07 523,118.9 C523.92,119.73 524.72,120.42 525.5,121.5 C526.28,122.58 526.87,122.88 527.7,125.4 C528.53,127.92 529.42,131.95 530.5,136.6 C531.58,141.25 532.97,148.03 534.2,153.3 C535.43,158.57 536.85,164.25 537.9,168.2 C538.95,172.15 539.72,174.83 540.5,177 C541.28,179.17 541.93,181.03 542.6,181.2 C543.27,181.37 543.88,180.17 544.5,178 C545.12,175.83 545.68,171.7 546.3,168.2 C546.92,164.7 547.58,161.03 548.2,157 C548.82,152.97 549.38,148.33 550,144 C550.62,139.67 551.27,135.03 551.9,131 C552.53,126.97 553.12,123.05 553.8,119.8 C554.48,116.55 555.23,113.67 556,111.5 C556.77,109.33 557.57,108.08 558.4,106.8 C559.23,105.52 560.22,104.52 561,103.8 C561.78,103.08 561.6,102.75 563.1,102.5 C564.6,102.25 567.68,102.3 570,102.3 C572.32,102.3 575.52,102.3 577,102.5 C578.48,102.7 578.23,103.48 578.9,103.5 C579.57,103.52 579.77,102.73 581,102.6 C582.23,102.47 584.97,102.13 586.3,102.7 C587.63,103.27 588.07,104.4 589,106 C589.93,107.6 590.98,110.38 591.9,112.3 C592.82,114.22 593.57,115.78 594.5,117.5 C595.43,119.22 596.3,121.18 597.5,122.6 C598.7,124.02 600.43,123.9 601.7,126 C602.97,128.1 604.12,131.42 605.1,135.2 C606.08,138.98 606.92,145.4 607.6,148.7 C608.28,152 608.73,153.38 609.2,155 C609.67,156.62 609.93,158.23 610.4,158.4 C610.87,158.57 611.35,157.35 612,156 C612.65,154.65 613.55,152.22 614.3,150.3 C615.05,148.38 615.8,146.32 616.5,144.5 C617.2,142.68 617.83,140.9 618.5,139.4 C619.17,137.9 619.95,136.25 620.5,135.5 C621.05,134.75 621.38,134.57 621.8,134.9 C622.22,135.23 622.53,135.9 623,137.5 C623.47,139.1 624.15,142.78 624.6,144.5 C625.05,146.22 625.35,147.63 625.7,147.8 C626.05,147.97 626.37,146.2 626.7,145.5 C627.03,144.8 627.35,143.85 627.7,143.6 C628.05,143.35 628.38,143.58 628.8,144 C629.22,144.42 629.78,146.93 630.2,146.1 C630.62,145.27 630.88,141.93 631.3,139 C631.72,136.07 632.2,131.08 632.7,128.5 C633.2,125.92 633.73,124.67 634.3,123.5 C634.87,122.33 635.48,121.72 636.1,121.5 C636.72,121.28 637.3,121.58 638,122.2 C638.7,122.82 639.47,123.73 640.3,125.2 C641.13,126.67 642.17,128.77 643,131 C643.83,133.23 644.47,135.77 645.3,138.6 C646.13,141.43 647.17,144.35 648,148 C648.83,151.65 649.72,157.75 650.3,160.5 C650.88,163.25 650.93,163.45 651.5,164.5 C652.07,165.55 653.03,165.8 653.7,166.8 C654.37,167.8 654.95,168.8 655.5,170.5 C656.05,172.2 656.47,173.83 657,177 C657.53,180.17 658.27,187.17 658.7,189.5 C659.13,191.83 659.32,190.62 659.6,191 C659.88,191.38 660.08,191.13 660.4,191.8 C660.72,192.47 660.95,193.03 661.5,195 C662.05,196.97 662.95,201.18 663.7,203.6 C664.45,206.02 665.15,207.53 666,209.5 C666.85,211.47 667.88,213.85 668.8,215.4 C669.72,216.95 670.67,217.95 671.5,218.8 C672.33,219.65 673.25,220.13 673.8,220.5 C674.35,220.87 674.63,220.92 674.8,221" fill="none" stroke="#333" stroke-width="1.0"/>
<line x1="497.3" y1="110.1" x2="497.3" y2="154.2" stroke="#444" stroke-width="0.9" stroke-dasharray="1.2 1.2"/>
<line x1="542.6" y1="170.1" x2="542.6" y2="213.3" stroke="#444" stroke-width="0.9" stroke-dasharray="1.2 1.2"/>
<line x1="610.4" y1="147.8" x2="610.4" y2="190.2" stroke="#444" stroke-width="0.9" stroke-dasharray="1.2 1.2"/>
<line x1="625.7" y1="145.3" x2="625.7" y2="186.5" stroke="#444" stroke-width="0.9" stroke-dasharray="1.2 1.2"/>
<line x1="630.2" y1="138.6" x2="630.2" y2="181" stroke="#444" stroke-width="0.9" stroke-dasharray="1.2 1.2"/>
<text x="493.7" y="140.3" font-size="8.6" font-weight="bold" fill="#222" text-anchor="middle" transform="rotate(-90 493.7 140.3)" stroke="#222" stroke-width="0.2">1658</text>
<text x="540.2" y="197.1" font-size="8.6" font-weight="bold" fill="#222" text-anchor="middle" transform="rotate(-90 540.2 197.1)" stroke="#222" stroke-width="0.2">1437</text>
<text x="607" y="176" font-size="8.6" font-weight="bold" fill="#222" text-anchor="middle" transform="rotate(-90 607 176)" stroke="#222" stroke-width="0.2">1107</text>
<text x="622.3" y="174.7" font-size="8.6" font-weight="bold" fill="#222" text-anchor="middle" transform="rotate(-90 622.3 174.7)" stroke="#222" stroke-width="0.2">1035</text>
<text x="638.8" y="167.1" font-size="8.6" font-weight="bold" fill="#222" text-anchor="middle" transform="rotate(-90 638.8 167.1)" stroke="#222" stroke-width="0.2">1016</text>
<rect x="59.8" y="301.5" width="248.8" height="200.1" fill="none" stroke="#333" stroke-width="1.2"/>
<line x1="59.8" y1="501.6" x2="59.8" y2="505.1" stroke="#333" stroke-width="1"/>
<text x="59.8" y="517.5" font-size="10.8" font-weight="bold" fill="#222" text-anchor="middle" stroke="#222" stroke-width="0.2">10</text>
<line x1="75.28" y1="501.6" x2="75.28" y2="503.6" stroke="#333" stroke-width="1"/>
<line x1="90.75" y1="501.6" x2="90.75" y2="505.1" stroke="#333" stroke-width="1"/>
<text x="90.75" y="517.5" font-size="10.8" font-weight="bold" fill="#222" text-anchor="middle" stroke="#222" stroke-width="0.2">20</text>
<line x1="106.22" y1="501.6" x2="106.22" y2="503.6" stroke="#333" stroke-width="1"/>
<line x1="121.7" y1="501.6" x2="121.7" y2="505.1" stroke="#333" stroke-width="1"/>
<text x="121.7" y="517.5" font-size="10.8" font-weight="bold" fill="#222" text-anchor="middle" stroke="#222" stroke-width="0.2">30</text>
<line x1="137.18" y1="501.6" x2="137.18" y2="503.6" stroke="#333" stroke-width="1"/>
<line x1="152.65" y1="501.6" x2="152.65" y2="505.1" stroke="#333" stroke-width="1"/>
<text x="152.65" y="517.5" font-size="10.8" font-weight="bold" fill="#222" text-anchor="middle" stroke="#222" stroke-width="0.2">40</text>
<line x1="168.12" y1="501.6" x2="168.12" y2="503.6" stroke="#333" stroke-width="1"/>
<line x1="183.6" y1="501.6" x2="183.6" y2="505.1" stroke="#333" stroke-width="1"/>
<text x="183.6" y="517.5" font-size="10.8" font-weight="bold" fill="#222" text-anchor="middle" stroke="#222" stroke-width="0.2">50</text>
<line x1="199.07" y1="501.6" x2="199.07" y2="503.6" stroke="#333" stroke-width="1"/>
<line x1="214.55" y1="501.6" x2="214.55" y2="505.1" stroke="#333" stroke-width="1"/>
<text x="214.55" y="517.5" font-size="10.8" font-weight="bold" fill="#222" text-anchor="middle" stroke="#222" stroke-width="0.2">60</text>
<line x1="230.03" y1="501.6" x2="230.03" y2="503.6" stroke="#333" stroke-width="1"/>
<line x1="245.5" y1="501.6" x2="245.5" y2="505.1" stroke="#333" stroke-width="1"/>
<text x="245.5" y="517.5" font-size="10.8" font-weight="bold" fill="#222" text-anchor="middle" stroke="#222" stroke-width="0.2">70</text>
<line x1="260.98" y1="501.6" x2="260.98" y2="503.6" stroke="#333" stroke-width="1"/>
<line x1="276.45" y1="501.6" x2="276.45" y2="505.1" stroke="#333" stroke-width="1"/>
<text x="276.45" y="517.5" font-size="10.8" font-weight="bold" fill="#222" text-anchor="middle" stroke="#222" stroke-width="0.2">80</text>
<line x1="291.93" y1="501.6" x2="291.93" y2="503.6" stroke="#333" stroke-width="1"/>
<line x1="307.4" y1="501.6" x2="307.4" y2="505.1" stroke="#333" stroke-width="1"/>
<text x="307.4" y="517.5" font-size="10.8" font-weight="bold" fill="#222" text-anchor="middle" stroke="#222" stroke-width="0.2">90</text>
<text x="180.3" y="532.3" font-size="12.6" font-weight="bold" fill="#222" text-anchor="middle" stroke="#222" stroke-width="0.2">2θ(degree)</text>
<text x="53.2" y="404" font-size="13.2" font-weight="bold" fill="#222" text-anchor="middle" transform="rotate(-90 53.2 404)" stroke="#222" stroke-width="0.2">Intensity(a.u.)</text>
<text x="1.5" y="291.2" font-size="20.5" font-weight="bold" fill="#111" text-anchor="start" stroke="#111" stroke-width="0.2">(c)</text>
<path d="M73.4,308.6 L75.3,310.5 L73.4,312.4 L71.5,310.5 Z" fill="#111"/>
<text x="78.8" y="313.6" font-size="8.9" font-weight="bold" fill="#222" text-anchor="start" stroke="#222" stroke-width="0.2"><tspan font-style="italic">α</tspan>-Al<tspan font-size="5.79" dy="2.23">2</tspan><tspan dy="-2.23">O</tspan><tspan font-size="5.79" dy="2.23">3</tspan></text>
<path d="M60,354.86 L60.2,354.54 L60.4,354.58 L60.6,354.81 L60.8,354.7 L61,354.72 L61.2,354.63 L61.4,354.57 L61.6,354.88 L61.8,354.9 L62,354.55 L62.2,354.73 L62.4,354.58 L62.6,354.92 L62.8,354.72 L63,354.6 L63.2,354.82 L63.4,354.5 L63.6,354.52 L63.8,354.9 L64,354.91 L64.2,354.68 L64.4,354.5 L64.6,354.75 L64.8,354.82 L65,354.73 L65.2,354.9 L65.4,354.82 L65.6,354.72 L65.8,354.7 L66,354.81 L66.2,354.82 L66.4,354.82 L66.6,354.71 L66.8,354.79 L67,354.91 L67.2,354.55 L67.4,354.67 L67.6,354.63 L67.8,354.84 L68,354.48 L68.2,354.54 L68.4,354.86 L68.6,354.77 L68.8,354.6 L69,354.6 L69.2,354.5 L69.4,354.73 L69.6,354.55 L69.8,354.62 L70,354.78 L70.2,354.66 L70.4,354.53 L70.6,354.54 L70.8,354.69 L71,354.66 L71.2,354.9 L71.4,354.81 L71.6,354.57 L71.8,354.73 L72,354.84 L72.2,354.67 L72.4,354.61 L72.6,354.62 L72.8,354.75 L73,354.72 L73.2,354.69 L73.4,354.57 L73.6,354.69 L73.8,354.74 L74,354.7 L74.2,354.9 L74.4,354.9 L74.6,354.61 L74.8,354.48 L75,354.66 L75.2,354.74 L75.4,354.84 L75.6,354.7 L75.8,354.48 L76,354.58 L76.2,354.68 L76.4,354.54 L76.6,354.81 L76.8,354.69 L77,354.5 L77.2,354.66 L77.4,354.71 L77.6,354.8 L77.8,354.67 L78,354.49 L78.2,354.91 L78.4,354.57 L78.6,354.55 L78.8,354.53 L79,354.59 L79.2,354.56 L79.4,354.69 L79.6,354.67 L79.8,354.73 L80,354.89 L80.2,354.53 L80.4,354.66 L80.6,354.83 L80.8,354.69 L81,354.7 L81.2,354.76 L81.4,354.76 L81.6,354.68 L81.8,354.64 L82,354.65 L82.2,354.71 L82.4,354.9 L82.6,354.81 L82.8,354.84 L83,354.66 L83.2,354.54 L83.4,354.56 L83.6,354.56 L83.8,354.56 L84,354.8 L84.2,354.54 L84.4,354.62 L84.6,354.88 L84.8,354.91 L85,354.91 L85.2,354.58 L85.4,354.8 L85.6,354.87 L85.8,354.64 L86,354.76 L86.2,354.88 L86.4,354.84 L86.6,354.68 L86.8,354.84 L87,354.79 L87.2,354.6 L87.4,354.71 L87.6,354.77 L87.8,354.7 L88,354.9 L88.2,354.74 L88.4,354.73 L88.6,354.83 L88.8,354.86 L89,354.52 L89.2,354.69 L89.4,354.82 L89.6,354.65 L89.8,354.55 L90,354.9 L90.2,354.9 L90.4,354.85 L90.6,354.6 L90.8,354.84 L91,354.6 L91.2,354.61 L91.4,354.67 L91.6,354.81 L91.8,354.48 L92,354.56 L92.2,354.68 L92.4,354.81 L92.6,354.62 L92.8,354.74 L93,354.66 L93.2,354.77 L93.4,354.63 L93.6,354.88 L93.8,354.78 L94,354.48 L94.2,354.52 L94.4,354.77 L94.6,354.53 L94.8,354.77 L95,354.49 L95.2,354.58 L95.4,354.72 L95.6,354.8 L95.8,354.9 L96,354.52 L96.2,354.89 L96.4,354.54 L96.6,354.48 L96.8,354.65 L97,354.83 L97.2,354.52 L97.4,354.47 L97.6,354.59 L97.8,354.68 L98,354.73 L98.2,354.75 L98.4,354.81 L98.6,354.6 L98.8,354.71 L99,354.81 L99.2,354.85 L99.4,354.6 L99.6,354.76 L99.8,354.67 L100,354.75 L100.2,354.51 L100.4,354.49 L100.6,354.88 L100.8,354.8 L101,354.74 L101.2,354.45 L101.4,354.54 L101.6,354.73 L101.8,354.78 L102,354.58 L102.2,354.5 L102.4,354.46 L102.6,354.71 L102.8,354.47 L103,354.55 L103.2,354.64 L103.4,354.41 L103.6,354.73 L103.8,354.51 L104,354.78 L104.2,354.73 L104.4,354.39 L104.6,354.69 L104.8,354.43 L105,354.47 L105.2,354.34 L105.4,354.51 L105.6,354.46 L105.8,354.37 L106,353.91 L106.2,353.6 L106.4,352.64 L106.6,351.27 L106.8,349.5 L107,346.57 L107.2,343.81 L107.4,341.44 L107.6,340.48 L107.8,341.08 L108,343.51 L108.2,346.45 L108.4,349.4 L108.6,351.39 L108.8,352.71 L109,353.7 L109.2,354.04 L109.4,354.4 L109.6,354.55 L109.8,354.5 L110,354.17 L110.2,354.17 L110.4,353.79 L110.6,353.75 L110.8,353.68 L111,353.5 L111.2,353.7 L111.4,354.34 L111.6,354.29 L111.8,354.7 L112,354.76 L112.2,354.45 L112.4,354.84 L112.6,354.75 L112.8,354.42 L113,354.67 L113.2,354.8 L113.4,354.75 L113.6,354.68 L113.8,354.4 L114,354.59 L114.2,354.13 L114.4,354.26 L114.6,353.91 L114.8,353.89 L115,354.16 L115.2,354.24 L115.4,354.23 L115.6,354.51 L115.8,354.37 L116,354.73 L116.2,354.8 L116.4,354.41 L116.6,354.74 L116.8,354.62 L117,354.69 L117.2,354.75 L117.4,354.86 L117.6,354.49 L117.8,354.46 L118,354.47 L118.2,354.84 L118.4,354.8 L118.6,354.62 L118.8,354.46 L119,354.65 L119.2,354.59 L119.4,354.6 L119.6,354.78 L119.8,354.65 L120,354.76 L120.2,354.78 L120.4,354.86 L120.6,354.77 L120.8,354.46 L121,354.69 L121.2,354.6 L121.4,354.61 L121.6,354.48 L121.8,354.72 L122,354.75 L122.2,354.75 L122.4,354.75 L122.6,354.52 L122.8,354.5 L123,354.75 L123.2,354.74 L123.4,354.65 L123.6,354.63 L123.8,354.62 L124,354.78 L124.2,354.88 L124.4,354.78 L124.6,354.85 L124.8,354.64 L125,354.85 L125.2,354.85 L125.4,354.6 L125.6,354.75 L125.8,354.53 L126,354.66 L126.2,354.5 L126.4,354.81 L126.6,354.65 L126.8,354.52 L127,354.84 L127.2,354.45 L127.4,354.79 L127.6,354.52 L127.8,354.43 L128,354.5 L128.2,354.72 L128.4,354.81 L128.6,354.63 L128.8,354.45 L129,354.72 L129.2,354.45 L129.4,354.78 L129.6,354.44 L129.8,354.82 L130,354.69 L130.2,354.43 L130.4,354.47 L130.6,354.42 L130.8,354.44 L131,354.47 L131.2,354.49 L131.4,354.71 L131.6,354.59 L131.8,354.7 L132,354.44 L132.2,354.45 L132.4,354.62 L132.6,354.69 L132.8,354.27 L133,354.32 L133.2,354.41 L133.4,354.39 L133.6,354.22 L133.8,354.36 L134,354.34 L134.2,354.31 L134.4,354.28 L134.6,354.29 L134.8,353.88 L135,353.75 L135.2,353.26 L135.4,352.69 L135.6,351.12 L135.8,348.76 L136,345 L136.2,339.79 L136.4,333.38 L136.6,327.36 L136.8,322.55 L137,320.61 L137.2,322.62 L137.4,327.52 L137.6,333.5 L137.8,339.67 L138,344.75 L138.2,348.61 L138.4,350.95 L138.6,352.38 L138.8,353.39 L139,353.69 L139.2,353.92 L139.4,354.17 L139.6,354.17 L139.8,354.17 L140,354.07 L140.2,354.1 L140.4,354.41 L140.6,354.28 L140.8,354.56 L141,354.56 L141.2,354.38 L141.4,354.23 L141.6,354.55 L141.8,354.28 L142,354.22 L142.2,354.47 L142.4,354.28 L142.6,354.19 L142.8,354.37 L143,354.17 L143.2,354.05 L143.4,353.92 L143.6,353.44 L143.8,352.78 L144,351.68 L144.2,350.25 L144.4,348.29 L144.6,345.75 L144.8,343.28 L145,341.22 L145.2,340.41 L145.4,341.45 L145.6,343.08 L145.8,345.56 L146,348.23 L146.2,350.3 L146.4,352.06 L146.6,352.88 L146.8,353.84 L147,353.79 L147.2,354.07 L147.4,354.26 L147.6,354.48 L147.8,354.24 L148,354.25 L148.2,354.63 L148.4,354.37 L148.6,354.36 L148.8,354.45 L149,354.45 L149.2,354.57 L149.4,354.37 L149.6,354.35 L149.8,354.62 L150,354.44 L150.2,354.61 L150.4,354.73 L150.6,354.66 L150.8,354.75 L151,354.41 L151.2,354.39 L151.4,354.76 L151.6,354.55 L151.8,354.63 L152,354.76 L152.2,354.69 L152.4,354.71 L152.6,354.49 L152.8,354.81 L153,354.73 L153.2,354.62 L153.4,354.8 L153.6,354.53 L153.8,354.54 L154,354.44 L154.2,354.71 L154.4,354.67 L154.6,354.56 L154.8,354.67 L155,354.53 L155.2,354.67 L155.4,354.48 L155.6,354.43 L155.8,354.41 L156,354.33 L156.2,354.51 L156.4,354.53 L156.6,354.36 L156.8,354.39 L157,354.46 L157.2,354.53 L157.4,354.56 L157.6,354.62 L157.8,354.29 L158,354.57 L158.2,354.27 L158.4,354.33 L158.6,354.11 L158.8,354.16 L159,354.02 L159.2,354.34 L159.4,354.11 L159.6,354 L159.8,354.01 L160,353.77 L160.2,353.58 L160.4,353.07 L160.6,352.52 L160.8,350.94 L161,348.61 L161.2,345.06 L161.4,339.89 L161.6,333.17 L161.8,325.81 L162,318.75 L162.2,313.33 L162.4,311.44 L162.6,313.53 L162.8,318.96 L163,325.99 L163.2,333.25 L163.4,339.68 L163.6,344.83 L163.8,348.59 L164,350.71 L164.2,352.32 L164.4,352.94 L164.6,353.56 L164.8,353.66 L165,353.71 L165.2,354.12 L165.4,354.26 L165.6,354.13 L165.8,354.22 L166,354.35 L166.2,354.54 L166.4,354.41 L166.6,354.42 L166.8,354.45 L167,354.28 L167.2,354.42 L167.4,354.37 L167.6,354.31 L167.8,354.39 L168,354.52 L168.2,354.42 L168.4,354.47 L168.6,354.48 L168.8,354.5 L169,354.6 L169.2,354.51 L169.4,354.52 L169.6,354.39 L169.8,354.46 L170,354.44 L170.2,354.48 L170.4,354.46 L170.6,354.56 L170.8,354.67 L171,354.71 L171.2,354.52 L171.4,354.45 L171.6,354.6 L171.8,354.77 L172,354.48 L172.2,354.63 L172.4,354.64 L172.6,354.83 L172.8,354.63 L173,354.53 L173.2,354.67 L173.4,354.7 L173.6,354.57 L173.8,354.85 L174,354.64 L174.2,354.45 L174.4,354.56 L174.6,354.69 L174.8,354.56 L175,354.6 L175.2,354.77 L175.4,354.78 L175.6,354.48 L175.8,354.75 L176,354.84 L176.2,354.5 L176.4,354.64 L176.6,354.71 L176.8,354.65 L177,354.55 L177.2,354.8 L177.4,354.58 L177.6,354.56 L177.8,354.51 L178,354.75 L178.2,354.6 L178.4,354.77 L178.6,354.63 L178.8,354.8 L179,354.53 L179.2,354.49 L179.4,354.73 L179.6,354.77 L179.8,354.45 L180,354.56 L180.2,354.5 L180.4,354.86 L180.6,354.47 L180.8,354.6 L181,354.73 L181.2,354.68 L181.4,354.53 L181.6,354.52 L181.8,354.78 L182,354.59 L182.2,354.79 L182.4,354.43 L182.6,354.67 L182.8,354.46 L183,354.54 L183.2,354.59 L183.4,354.74 L183.6,354.62 L183.8,354.79 L184,354.79 L184.2,354.53 L184.4,354.68 L184.6,354.51 L184.8,354.73 L185,354.52 L185.2,354.51 L185.4,354.69 L185.6,354.77 L185.8,354.64 L186,354.59 L186.2,354.75 L186.4,354.7 L186.6,354.75 L186.8,354.5 L187,354.36 L187.2,354.64 L187.4,354.7 L187.6,354.39 L187.8,354.31 L188,354.21 L188.2,354.32 L188.4,354.36 L188.6,354.02 L188.8,354.12 L189,353.5 L189.2,353.15 L189.4,352.09 L189.6,350.7 L189.8,348.98 L190,346.94 L190.2,344.63 L190.4,342.24 L190.6,340.86 L190.8,340.23 L191,340.97 L191.2,342.29 L191.4,344.58 L191.6,346.75 L191.8,348.74 L192,350.48 L192.2,352.24 L192.4,352.84 L192.6,353.42 L192.8,354.02 L193,354.21 L193.2,354.25 L193.4,354.17 L193.6,354.45 L193.8,354.27 L194,354.35 L194.2,354.64 L194.4,354.32 L194.6,354.73 L194.8,354.68 L195,354.46 L195.2,354.74 L195.4,354.61 L195.6,354.72 L195.8,354.58 L196,354.42 L196.2,354.39 L196.4,354.78 L196.6,354.77 L196.8,354.43 L197,354.78 L197.2,354.68 L197.4,354.75 L197.6,354.76 L197.8,354.79 L198,354.52 L198.2,354.47 L198.4,354.5 L198.6,354.42 L198.8,354.5 L199,354.62 L199.2,354.51 L199.4,354.36 L199.6,354.5 L199.8,354.67 L200,354.74 L200.2,354.35 L200.4,354.49 L200.6,354.59 L200.8,354.47 L201,354.48 L201.2,354.48 L201.4,354.67 L201.6,354.53 L201.8,354.49 L202,354.56 L202.2,354.24 L202.4,354.41 L202.6,354.28 L202.8,354.22 L203,354.16 L203.2,354.12 L203.4,354.04 L203.6,354.16 L203.8,353.69 L204,353.81 L204.2,353.06 L204.4,352.41 L204.6,351.31 L204.8,349.97 L205,347.52 L205.2,343.96 L205.4,340.15 L205.6,335.78 L205.8,331.17 L206,328.01 L206.2,325.74 L206.4,325.77 L206.6,327.97 L206.8,331.43 L207,335.63 L207.2,339.96 L207.4,344.31 L207.6,347.33 L207.8,349.95 L208,351.33 L208.2,352.75 L208.4,353.46 L208.6,353.71 L208.8,353.8 L209,354.13 L209.2,354.31 L209.4,354.09 L209.6,354.14 L209.8,354.16 L210,354.44 L210.2,354.41 L210.4,354.52 L210.6,354.4 L210.8,354.52 L211,354.54 L211.2,354.36 L211.4,354.3 L211.6,354.47 L211.8,354.69 L212,354.46 L212.2,354.56 L212.4,354.33 L212.6,354.45 L212.8,354.41 L213,354.47 L213.2,354.55 L213.4,354.39 L213.6,354.42 L213.8,354.66 L214,354.72 L214.2,354.63 L214.4,354.56 L214.6,354.75 L214.8,354.64 L215,354.53 L215.2,354.76 L215.4,354.41 L215.6,354.46 L215.8,354.57 L216,354.52 L216.2,354.4 L216.4,354.26 L216.6,353.85 L216.8,353.67 L217,353.28 L217.2,353.02 L217.4,352.24 L217.6,352.11 L217.8,351.82 L218,351.83 L218.2,351.54 L218.4,352.04 L218.6,352.25 L218.8,352.69 L219,353.1 L219.2,353.54 L219.4,353.79 L219.6,354.01 L219.8,354.22 L220,354.61 L220.2,354.5 L220.4,354.52 L220.6,354.36 L220.8,354.46 L221,354.51 L221.2,354.5 L221.4,354.67 L221.6,354.42 L221.8,354.56 L222,354.66 L222.2,354.64 L222.4,354.41 L222.6,354.61 L222.8,354.78 L223,354.79 L223.2,354.55 L223.4,354.6 L223.6,354.45 L223.8,354.77 L224,354.67 L224.2,354.53 L224.4,354.83 L224.6,354.81 L224.8,354.61 L225,354.74 L225.2,354.81 L225.4,354.74 L225.6,354.57 L225.8,354.62 L226,354.81 L226.2,354.82 L226.4,354.47 L226.6,354.56 L226.8,354.77 L227,354.46 L227.2,354.83 L227.4,354.67 L227.6,354.46 L227.8,354.52 L228,354.7 L228.2,354.43 L228.4,354.55 L228.6,354.43 L228.8,354.42 L229,354.62 L229.2,354.5 L229.4,354.55 L229.6,354.37 L229.8,354.42 L230,354.44 L230.2,354.39 L230.4,354.3 L230.6,354.61 L230.8,354.61 L231,354.35 L231.2,354.31 L231.4,354.38 L231.6,354.33 L231.8,354.26 L232,353.88 L232.2,353.65 L232.4,353.34 L232.6,352.97 L232.8,351.77 L233,350.84 L233.2,349.61 L233.4,348.06 L233.6,346.35 L233.8,345.3 L234,344.3 L234.2,343.87 L234.4,343.95 L234.6,344.95 L234.8,346.19 L235,347.88 L235.2,349.36 L235.4,350.69 L235.6,351.79 L235.8,352.6 L236,353.06 L236.2,353.38 L236.4,353.84 L236.6,353.86 L236.8,354.02 L237,353.96 L237.2,353.71 L237.4,353.37 L237.6,352.9 L237.8,351.96 L238,351.24 L238.2,349.58 L238.4,347.6 L238.6,345.6 L238.8,343.42 L239,341.37 L239.2,339.65 L239.4,338.45 L239.6,338.48 L239.8,339.55 L240,341.16 L240.2,343.3 L240.4,345.6 L240.6,347.93 L240.8,349.73 L241,351.05 L241.2,352.33 L241.4,352.93 L241.6,353.57 L241.8,353.96 L242,354.11 L242.2,354.39 L242.4,354.37 L242.6,354.4 L242.8,354.61 L243,354.57 L243.2,354.56 L243.4,354.32 L243.6,354.46 L243.8,354.6 L244,354.31 L244.2,354.64 L244.4,354.54 L244.6,354.45 L244.8,354.48 L245,354.6 L245.2,354.46 L245.4,354.59 L245.6,354.5 L245.8,354.6 L246,354.4 L246.2,354.51 L246.4,354.79 L246.6,354.78 L246.8,354.42 L247,354.74 L247.2,354.84 L247.4,354.74 L247.6,354.64 L247.8,354.44 L248,354.68 L248.2,354.54 L248.4,354.49 L248.6,354.82 L248.8,354.6 L249,354.43 L249.2,354.63 L249.4,354.63 L249.6,354.72 L249.8,354.46 L250,354.45 L250.2,354.83 L250.4,354.63 L250.6,354.69 L250.8,354.58 L251,354.83 L251.2,354.76 L251.4,354.76 L251.6,354.67 L251.8,354.53 L252,354.5 L252.2,354.54 L252.4,354.59 L252.6,354.85 L252.8,354.71 L253,354.59 L253.2,354.76 L253.4,354.66 L253.6,354.49 L253.8,354.83 L254,354.51 L254.2,354.84 L254.4,354.72 L254.6,354.49 L254.8,354.8 L255,354.66 L255.2,354.7 L255.4,354.5 L255.6,354.45 L255.8,354.76 L256,354.67 L256.2,354.49 L256.4,354.65 L256.6,354.79 L256.8,354.55 L257,354.74 L257.2,354.67 L257.4,354.88 L257.6,354.45 L257.8,354.59 L258,354.48 L258.2,354.46 L258.4,354.76 L258.6,354.64 L258.8,354.69 L259,354.55 L259.2,354.51 L259.4,354.78 L259.6,354.76 L259.8,354.56 L260,354.69 L260.2,354.81 L260.4,354.78 L260.6,354.62 L260.8,354.6 L261,354.44 L261.2,354.63 L261.4,354.59 L261.6,354.79 L261.8,354.67 L262,354.72 L262.2,354.54 L262.4,354.72 L262.6,354.74 L262.8,354.66 L263,354.61 L263.2,354.65 L263.4,354.52 L263.6,354.69 L263.8,354.36 L264,354.41 L264.2,354.42 L264.4,354.54 L264.6,354.29 L264.8,353.92 L265,353.64 L265.2,353.15 L265.4,352.56 L265.6,352.14 L265.8,351.27 L266,350.49 L266.2,349.74 L266.4,349.02 L266.6,348.47 L266.8,348.37 L267,348.35 L267.2,348.77 L267.4,349.55 L267.6,350.33 L267.8,351.38 L268,352.19 L268.2,352.71 L268.4,353.12 L268.6,353.74 L268.8,354.22 L269,354.42 L269.2,354.43 L269.4,354.38 L269.6,354.67 L269.8,354.65 L270,354.47 L270.2,354.35 L270.4,354.65 L270.6,354.55 L270.8,354.59 L271,354.82 L271.2,354.69 L271.4,354.78 L271.6,354.73 L271.8,354.51 L272,354.55 L272.2,354.83 L272.4,354.82 L272.6,354.54 L272.8,354.81 L273,354.72 L273.2,354.74 L273.4,354.84 L273.6,354.85 L273.8,354.8 L274,354.68 L274.2,354.45 L274.4,354.58 L274.6,354.75 L274.8,354.55 L275,354.73 L275.2,354.62 L275.4,354.69 L275.6,354.41 L275.8,354.65 L276,354.42 L276.2,354.44 L276.4,354.28 L276.6,354.28 L276.8,354.03 L277,354.05 L277.2,353.71 L277.4,353.48 L277.6,353.26 L277.8,352.98 L278,352.77 L278.2,352.68 L278.4,352.4 L278.6,352.57 L278.8,352.76 L279,353.2 L279.2,353.27 L279.4,353.68 L279.6,353.92 L279.8,354.04 L280,354.17 L280.2,354.44 L280.4,354.54 L280.6,354.5 L280.8,354.57 L281,354.63 L281.2,354.78 L281.4,354.68 L281.6,354.56 L281.8,354.62 L282,354.62 L282.2,354.49 L282.4,354.55 L282.6,354.57 L282.8,354.86 L283,354.74 L283.2,354.57 L283.4,354.81 L283.6,354.47 L283.8,354.81 L284,354.49 L284.2,354.78 L284.4,354.51 L284.6,354.5 L284.8,354.73 L285,354.48 L285.2,354.8 L285.4,354.5 L285.6,354.7 L285.8,354.67 L286,354.81 L286.2,354.6 L286.4,354.74 L286.6,354.56 L286.8,354.49 L287,354.56 L287.2,354.8 L287.4,354.35 L287.6,354.31 L287.8,354.35 L288,354.36 L288.2,354.13 L288.4,353.81 L288.6,353.77 L288.8,353.38 L289,353.2 L289.2,353.02 L289.4,352.58 L289.6,352.67 L289.8,352.53 L290,352.82 L290.2,352.78 L290.4,353.19 L290.6,353.15 L290.8,353.72 L291,353.95 L291.2,354.14 L291.4,354.31 L291.6,354.29 L291.8,354.46 L292,354.57 L292.2,354.31 L292.4,354.38 L292.6,354.51 L292.8,354.45 L293,354.45 L293.2,354.7 L293.4,354.45 L293.6,354.68 L293.8,354.51 L294,354.56 L294.2,354.58 L294.4,354.21 L294.6,354.02 L294.8,354.12 L295,353.67 L295.2,353.67 L295.4,353.28 L295.6,352.87 L295.8,352.74 L296,352.88 L296.2,352.61 L296.4,352.64 L296.6,352.77 L296.8,352.72 L297,353.12 L297.2,353.26 L297.4,353.55 L297.6,353.83 L297.8,354.24 L298,354.13 L298.2,354.17 L298.4,354.58 L298.6,354.44 L298.8,354.55 L299,354.64 L299.2,354.5 L299.4,354.4 L299.6,354.82 L299.8,354.44 L300,354.67 L300.2,354.47 L300.4,354.76 L300.6,354.52 L300.8,354.79 L301,354.68 L301.2,354.39 L301.4,354.51 L301.6,354.43 L301.8,354.54 L302,354.47 L302.2,354.38 L302.4,354.14 L302.6,354 L302.8,354.02 L303,353.64 L303.2,353.28 L303.4,352.92 L303.6,352.4 L303.8,352.09 L304,352.1 L304.2,351.81 L304.4,351.86 L304.6,351.96 L304.8,352.14 L305,352.38 L305.2,352.47 L305.4,352.88 L305.6,353.17 L305.8,353.71 L306,354.04 L306.2,353.9 L306.4,354.13 L306.6,354.19 L306.8,354.69 L307,354.58 L307.2,354.51 L307.4,354.49 L307.6,354.43 L307.8,354.61 L308,354.68" fill="none" stroke="#3d86e8" stroke-width="1.2" stroke-linejoin="round"/>
<path d="M60,405.6 L60.2,405.6 L60.4,405.99 L60.6,405.98 L60.8,405.65 L61,405.69 L61.2,405.72 L61.4,405.88 L61.6,405.75 L61.8,405.75 L62,405.76 L62.2,405.95 L62.4,405.83 L62.6,405.84 L62.8,405.7 L63,405.58 L63.2,405.6 L63.4,405.78 L63.6,405.82 L63.8,405.9 L64,406 L64.2,406.01 L64.4,405.81 L64.6,405.88 L64.8,405.85 L65,405.62 L65.2,405.79 L65.4,405.77 L65.6,405.91 L65.8,406.01 L66,405.87 L66.2,405.96 L66.4,405.79 L66.6,405.58 L66.8,405.72 L67,405.94 L67.2,405.62 L67.4,405.67 L67.6,405.69 L67.8,405.62 L68,405.68 L68.2,405.67 L68.4,405.86 L68.6,405.59 L68.8,405.59 L69,405.95 L69.2,405.69 L69.4,405.7 L69.6,405.81 L69.8,405.78 L70,405.8 L70.2,405.61 L70.4,405.8 L70.6,405.65 L70.8,405.86 L71,405.63 L71.2,405.62 L71.4,405.81 L71.6,405.77 L71.8,405.61 L72,405.7 L72.2,405.8 L72.4,405.92 L72.6,405.87 L72.8,405.71 L73,405.94 L73.2,405.62 L73.4,405.9 L73.6,405.62 L73.8,405.88 L74,405.6 L74.2,405.71 L74.4,405.79 L74.6,405.79 L74.8,405.73 L75,405.76 L75.2,405.88 L75.4,405.92 L75.6,405.79 L75.8,405.61 L76,405.74 L76.2,405.98 L76.4,405.66 L76.6,405.7 L76.8,405.62 L77,405.93 L77.2,405.69 L77.4,405.99 L77.6,405.73 L77.8,405.9 L78,405.92 L78.2,405.63 L78.4,405.97 L78.6,405.79 L78.8,405.64 L79,405.91 L79.2,405.92 L79.4,405.63 L79.6,405.83 L79.8,405.7 L80,406 L80.2,405.86 L80.4,405.94 L80.6,405.72 L80.8,405.98 L81,405.6 L81.2,406 L81.4,405.69 L81.6,406.01 L81.8,405.9 L82,405.66 L82.2,405.95 L82.4,405.93 L82.6,405.71 L82.8,405.85 L83,406 L83.2,405.58 L83.4,405.95 L83.6,406 L83.8,405.86 L84,405.74 L84.2,405.69 L84.4,405.96 L84.6,405.87 L84.8,406 L85,405.82 L85.2,405.68 L85.4,405.69 L85.6,405.62 L85.8,405.68 L86,405.63 L86.2,405.7 L86.4,405.81 L86.6,405.91 L86.8,405.72 L87,405.87 L87.2,405.97 L87.4,405.82 L87.6,405.63 L87.8,405.96 L88,405.76 L88.2,405.84 L88.4,405.79 L88.6,405.95 L88.8,405.59 L89,405.9 L89.2,405.75 L89.4,405.83 L89.6,406 L89.8,405.77 L90,405.95 L90.2,405.99 L90.4,406 L90.6,405.94 L90.8,405.97 L91,405.73 L91.2,405.79 L91.4,405.58 L91.6,405.6 L91.8,405.57 L92,405.91 L92.2,405.81 L92.4,405.9 L92.6,405.75 L92.8,405.73 L93,405.64 L93.2,405.67 L93.4,405.85 L93.6,405.75 L93.8,405.66 L94,405.84 L94.2,405.76 L94.4,405.51 L94.6,405.56 L94.8,405.21 L95,405.36 L95.2,405.38 L95.4,405.33 L95.6,405.32 L95.8,405.37 L96,405.31 L96.2,405.41 L96.4,405.56 L96.6,405.49 L96.8,405.75 L97,405.5 L97.2,405.51 L97.4,405.64 L97.6,405.79 L97.8,405.77 L98,405.74 L98.2,405.98 L98.4,405.82 L98.6,405.77 L98.8,405.92 L99,405.96 L99.2,405.65 L99.4,405.84 L99.6,405.77 L99.8,405.59 L100,405.73 L100.2,405.87 L100.4,405.56 L100.6,405.83 L100.8,405.98 L101,405.69 L101.2,405.94 L101.4,405.85 L101.6,405.62 L101.8,405.69 L102,405.97 L102.2,405.78 L102.4,405.8 L102.6,405.76 L102.8,405.88 L103,405.71 L103.2,405.93 L103.4,405.83 L103.6,405.79 L103.8,405.53 L104,405.9 L104.2,405.59 L104.4,405.83 L104.6,405.65 L104.8,405.72 L105,405.66 L105.2,405.51 L105.4,405.64 L105.6,405.71 L105.8,405.62 L106,405.47 L106.2,404.78 L106.4,404.21 L106.6,402.93 L106.8,401.32 L107,399.36 L107.2,396.66 L107.4,394.65 L107.6,393.89 L107.8,394.77 L108,396.8 L108.2,399.17 L108.4,401.27 L108.6,403.23 L108.8,404.26 L109,404.94 L109.2,405.08 L109.4,405.32 L109.6,405.34 L109.8,405.39 L110,405.57 L110.2,405.45 L110.4,405.11 L110.6,404.96 L110.8,404.74 L111,404.67 L111.2,404.78 L111.4,405.21 L111.6,405.34 L111.8,405.81 L112,405.77 L112.2,405.51 L112.4,405.9 L112.6,405.78 L112.8,405.94 L113,405.93 L113.2,405.56 L113.4,405.47 L113.6,405.51 L113.8,405.52 L114,405.06 L114.2,404.53 L114.4,403.69 L114.6,403.08 L114.8,402.84 L115,402.82 L115.2,403.38 L115.4,403.81 L115.6,404.28 L115.8,404.91 L116,405.57 L116.2,405.59 L116.4,405.61 L116.6,405.86 L116.8,405.59 L117,405.79 L117.2,405.68 L117.4,405.81 L117.6,405.54 L117.8,405.6 L118,405.63 L118.2,405.67 L118.4,405.27 L118.6,404.99 L118.8,404.04 L119,402.98 L119.2,402.21 L119.4,400.99 L119.6,400.18 L119.8,399.83 L120,399.85 L120.2,400.41 L120.4,401.5 L120.6,402.7 L120.8,403.5 L121,404.58 L121.2,404.96 L121.4,405.34 L121.6,405.49 L121.8,405.55 L122,405.86 L122.2,405.71 L122.4,405.81 L122.6,405.69 L122.8,405.56 L123,405.71 L123.2,405.98 L123.4,405.78 L123.6,405.67 L123.8,405.6 L124,405.7 L124.2,405.62 L124.4,405.98 L124.6,405.57 L124.8,405.66 L125,405.71 L125.2,405.58 L125.4,405.59 L125.6,405.93 L125.8,405.62 L126,405.64 L126.2,405.89 L126.4,405.65 L126.6,405.71 L126.8,405.89 L127,405.61 L127.2,405.91 L127.4,405.69 L127.6,405.77 L127.8,405.85 L128,405.71 L128.2,405.75 L128.4,405.86 L128.6,405.53 L128.8,405.92 L129,405.94 L129.2,405.73 L129.4,405.57 L129.6,405.64 L129.8,405.6 L130,405.71 L130.2,405.62 L130.4,405.77 L130.6,405.79 L130.8,405.68 L131,405.88 L131.2,405.85 L131.4,405.55 L131.6,405.79 L131.8,405.53 L132,405.5 L132.2,405.66 L132.4,405.52 L132.6,405.46 L132.8,405.4 L133,405.7 L133.2,405.66 L133.4,405.54 L133.6,405.47 L133.8,405.5 L134,405.58 L134.2,405.28 L134.4,405.02 L134.6,405.19 L134.8,404.96 L135,404.78 L135.2,404.3 L135.4,403.24 L135.6,401.9 L135.8,399.07 L136,395.02 L136.2,389.36 L136.4,382.46 L136.6,376.03 L136.8,370.45 L137,368.66 L137.2,370.52 L137.4,375.71 L137.6,382.56 L137.8,389.41 L138,394.85 L138.2,399.3 L138.4,401.74 L138.6,403.43 L138.8,404.24 L139,404.55 L139.2,404.82 L139.4,405.04 L139.6,405.28 L139.8,405.38 L140,405.34 L140.2,405.48 L140.4,405.5 L140.6,405.23 L140.8,405.63 L141,405.34 L141.2,405.54 L141.4,405.56 L141.6,405.59 L141.8,405.7 L142,405.53 L142.2,405.65 L142.4,405.53 L142.6,405.58 L142.8,405.29 L143,405.23 L143.2,405.37 L143.4,405.13 L143.6,404.72 L143.8,404.47 L144,403.73 L144.2,402.41 L144.4,400.75 L144.6,398.57 L144.8,396.74 L145,395.25 L145.2,394.49 L145.4,395.31 L145.6,396.56 L145.8,398.6 L146,400.68 L146.2,402.18 L146.4,403.66 L146.6,404.27 L146.8,404.76 L147,405.24 L147.2,405.31 L147.4,405.28 L147.6,405.43 L147.8,405.45 L148,405.43 L148.2,405.42 L148.4,405.51 L148.6,405.43 L148.8,405.74 L149,405.6 L149.2,405.59 L149.4,405.73 L149.6,405.72 L149.8,405.83 L150,405.49 L150.2,405.75 L150.4,405.7 L150.6,405.52 L150.8,405.84 L151,405.5 L151.2,405.87 L151.4,405.91 L151.6,405.77 L151.8,405.77 L152,405.52 L152.2,405.54 L152.4,405.59 L152.6,405.73 L152.8,405.69 L153,405.82 L153.2,405.56 L153.4,405.75 L153.6,405.79 L153.8,405.64 L154,405.85 L154.2,405.77 L154.4,405.5 L154.6,405.87 L154.8,405.84 L155,405.81 L155.2,405.79 L155.4,405.71 L155.6,405.78 L155.8,405.73 L156,405.77 L156.2,405.76 L156.4,405.59 L156.6,405.7 L156.8,405.68 L157,405.49 L157.2,405.79 L157.4,405.74 L157.6,405.41 L157.8,405.58 L158,405.41 L158.2,405.67 L158.4,405.47 L158.6,405.3 L158.8,405.48 L159,405.25 L159.2,405.27 L159.4,405.31 L159.6,404.97 L159.8,405.14 L160,404.96 L160.2,404.67 L160.4,404.41 L160.6,403.46 L160.8,402.31 L161,400.19 L161.2,396.91 L161.4,392.03 L161.6,386.05 L161.8,379.37 L162,373.02 L162.2,368.16 L162.4,366.27 L162.6,368.32 L162.8,373.17 L163,379.3 L163.2,386.43 L163.4,392.06 L163.6,396.85 L163.8,400.05 L164,402.54 L164.2,403.7 L164.4,404.2 L164.6,404.94 L164.8,405.13 L165,405.16 L165.2,405.34 L165.4,405.42 L165.6,405.25 L165.8,405.56 L166,405.21 L166.2,405.39 L166.4,405.68 L166.6,405.34 L166.8,405.65 L167,405.56 L167.2,405.55 L167.4,405.75 L167.6,405.6 L167.8,405.81 L168,405.76 L168.2,405.46 L168.4,405.51 L168.6,405.65 L168.8,405.58 L169,405.51 L169.2,405.84 L169.4,405.69 L169.6,405.85 L169.8,405.86 L170,405.87 L170.2,405.83 L170.4,405.9 L170.6,405.84 L170.8,405.77 L171,405.66 L171.2,405.56 L171.4,405.54 L171.6,405.63 L171.8,405.72 L172,405.55 L172.2,405.88 L172.4,405.91 L172.6,405.6 L172.8,405.68 L173,405.87 L173.2,405.79 L173.4,405.83 L173.6,405.77 L173.8,405.78 L174,405.79 L174.2,405.61 L174.4,405.61 L174.6,405.72 L174.8,405.76 L175,405.84 L175.2,405.63 L175.4,405.53 L175.6,405.87 L175.8,405.65 L176,405.64 L176.2,405.62 L176.4,405.84 L176.6,405.5 L176.8,405.49 L177,405.24 L177.2,404.73 L177.4,404.28 L177.6,403.82 L177.8,403.31 L178,402.95 L178.2,402.81 L178.4,402.96 L178.6,402.81 L178.8,403.11 L179,403.54 L179.2,404.12 L179.4,404.81 L179.6,405.12 L179.8,405.44 L180,405.41 L180.2,405.58 L180.4,405.81 L180.6,405.51 L180.8,405.52 L181,405.57 L181.2,405.76 L181.4,405.84 L181.6,405.88 L181.8,405.61 L182,405.66 L182.2,405.84 L182.4,405.57 L182.6,405.71 L182.8,405.78 L183,405.78 L183.2,405.64 L183.4,405.76 L183.6,405.66 L183.8,405.9 L184,405.64 L184.2,405.83 L184.4,405.54 L184.6,405.85 L184.8,405.79 L185,405.7 L185.2,405.76 L185.4,405.69 L185.6,405.51 L185.8,405.83 L186,405.57 L186.2,405.59 L186.4,405.55 L186.6,405.68 L186.8,405.67 L187,405.71 L187.2,405.64 L187.4,405.71 L187.6,405.72 L187.8,405.57 L188,405.66 L188.2,405.49 L188.4,405.37 L188.6,405.37 L188.8,405.22 L189,404.68 L189.2,403.99 L189.4,403.37 L189.6,401.91 L189.8,400.2 L190,398.06 L190.2,395.95 L190.4,394.08 L190.6,392.64 L190.8,391.82 L191,392.6 L191.2,394.21 L191.4,395.86 L191.6,398.35 L191.8,400.34 L192,402.04 L192.2,403.35 L192.4,404.04 L192.6,404.79 L192.8,405.09 L193,405.31 L193.2,405.25 L193.4,405.68 L193.6,405.48 L193.8,405.71 L194,405.72 L194.2,405.54 L194.4,405.66 L194.6,405.81 L194.8,405.59 L195,405.46 L195.2,405.58 L195.4,405.65 L195.6,405.53 L195.8,405.48 L196,405.82 L196.2,405.76 L196.4,405.47 L196.6,405.49 L196.8,405.81 L197,405.59 L197.2,405.51 L197.4,405.64 L197.6,405.59 L197.8,405.67 L198,405.79 L198.2,405.8 L198.4,405.86 L198.6,405.6 L198.8,405.83 L199,405.61 L199.2,405.71 L199.4,405.68 L199.6,405.44 L199.8,405.69 L200,405.65 L200.2,405.68 L200.4,405.75 L200.6,405.73 L200.8,405.59 L201,405.45 L201.2,405.76 L201.4,405.36 L201.6,405.47 L201.8,405.72 L202,405.41 L202.2,405.52 L202.4,405.44 L202.6,405.59 L202.8,405.37 L203,405.32 L203.2,405.14 L203.4,405.16 L203.6,404.99 L203.8,404.81 L204,404.77 L204.2,404.4 L204.4,403.45 L204.6,402.37 L204.8,400.49 L205,397.71 L205.2,394.02 L205.4,389.59 L205.6,384.68 L205.8,379.74 L206,376.14 L206.2,373.65 L206.4,373.86 L206.6,375.89 L206.8,379.96 L207,384.91 L207.2,389.72 L207.4,393.97 L207.6,397.65 L207.8,400.14 L208,402.28 L208.2,403.51 L208.4,404.01 L208.6,404.6 L208.8,405.09 L209,404.96 L209.2,405.25 L209.4,405.07 L209.6,405.27 L209.8,405.24 L210,405.24 L210.2,405.45 L210.4,405.27 L210.6,405.71 L210.8,405.6 L211,405.4 L211.2,405.78 L211.4,405.5 L211.6,405.37 L211.8,405.51 L212,405.45 L212.2,405.81 L212.4,405.61 L212.6,405.59 L212.8,405.67 L213,405.69 L213.2,405.53 L213.4,405.81 L213.6,405.86 L213.8,405.62 L214,405.46 L214.2,405.52 L214.4,405.59 L214.6,405.76 L214.8,405.49 L215,405.86 L215.2,405.77 L215.4,405.52 L215.6,405.45 L215.8,405.63 L216,405.35 L216.2,405.6 L216.4,405.24 L216.6,405.25 L216.8,404.88 L217,404.53 L217.2,404.18 L217.4,403.57 L217.6,403.13 L217.8,402.94 L218,402.68 L218.2,403.04 L218.4,403.12 L218.6,403.52 L218.8,404.02 L219,404.22 L219.2,404.94 L219.4,405.11 L219.6,405.31 L219.8,405.51 L220,405.34 L220.2,405.58 L220.4,405.64 L220.6,405.7 L220.8,405.72 L221,405.5 L221.2,405.57 L221.4,405.65 L221.6,405.86 L221.8,405.68 L222,405.89 L222.2,405.79 L222.4,405.94 L222.6,405.64 L222.8,405.52 L223,405.67 L223.2,405.7 L223.4,405.84 L223.6,405.76 L223.8,405.75 L224,405.77 L224.2,405.84 L224.4,405.86 L224.6,405.62 L224.8,405.54 L225,405.59 L225.2,405.68 L225.4,405.94 L225.6,405.82 L225.8,405.58 L226,405.52 L226.2,405.71 L226.4,405.7 L226.6,405.65 L226.8,405.84 L227,405.63 L227.2,405.78 L227.4,405.57 L227.6,405.73 L227.8,405.64 L228,405.69 L228.2,405.69 L228.4,405.72 L228.6,405.5 L228.8,405.58 L229,405.72 L229.2,405.68 L229.4,405.5 L229.6,405.56 L229.8,405.59 L230,405.45 L230.2,405.81 L230.4,405.59 L230.6,405.56 L230.8,405.62 L231,405.37 L231.2,405.34 L231.4,405.56 L231.6,405.4 L231.8,405.23 L232,405.11 L232.2,405.01 L232.4,404.44 L232.6,404.08 L232.8,403.38 L233,402.13 L233.2,400.89 L233.4,399.61 L233.6,398.15 L233.8,396.68 L234,395.88 L234.2,395.73 L234.4,395.82 L234.6,396.84 L234.8,398.15 L235,399.44 L235.2,400.76 L235.4,401.94 L235.6,403.04 L235.8,403.8 L236,404.46 L236.2,404.97 L236.4,404.99 L236.6,405.25 L236.8,404.9 L237,405.1 L237.2,404.84 L237.4,404.52 L237.6,404.31 L237.8,403.34 L238,402.58 L238.2,401.36 L238.4,399.47 L238.6,397.62 L238.8,395.34 L239,393.6 L239.2,392.19 L239.4,391.35 L239.6,391.35 L239.8,392.03 L240,393.51 L240.2,395.76 L240.4,397.7 L240.6,399.58 L240.8,401.07 L241,402.38 L241.2,403.42 L241.4,404.23 L241.6,404.72 L241.8,405.18 L242,405.2 L242.2,405.51 L242.4,405.52 L242.6,405.34 L242.8,405.49 L243,405.45 L243.2,405.59 L243.4,405.69 L243.6,405.61 L243.8,405.59 L244,405.75 L244.2,405.5 L244.4,405.45 L244.6,405.81 L244.8,405.79 L245,405.55 L245.2,405.59 L245.4,405.82 L245.6,405.66 L245.8,405.82 L246,405.55 L246.2,405.68 L246.4,405.71 L246.6,405.87 L246.8,405.77 L247,405.74 L247.2,405.79 L247.4,405.88 L247.6,405.87 L247.8,405.65 L248,405.55 L248.2,405.59 L248.4,405.69 L248.6,405.62 L248.8,405.91 L249,405.88 L249.2,405.66 L249.4,405.97 L249.6,405.94 L249.8,405.63 L250,405.89 L250.2,405.9 L250.4,405.8 L250.6,405.61 L250.8,405.98 L251,405.59 L251.2,405.85 L251.4,405.73 L251.6,405.77 L251.8,405.93 L252,405.56 L252.2,405.91 L252.4,405.63 L252.6,405.6 L252.8,405.79 L253,405.56 L253.2,405.96 L253.4,405.92 L253.6,405.77 L253.8,405.95 L254,405.63 L254.2,405.76 L254.4,405.64 L254.6,405.86 L254.8,405.98 L255,405.6 L255.2,405.9 L255.4,405.8 L255.6,405.93 L255.8,405.73 L256,405.78 L256.2,405.9 L256.4,405.97 L256.6,405.84 L256.8,405.64 L257,405.92 L257.2,405.89 L257.4,405.71 L257.6,405.71 L257.8,405.63 L258,405.7 L258.2,405.61 L258.4,405.91 L258.6,405.58 L258.8,405.97 L259,405.93 L259.2,405.93 L259.4,405.64 L259.6,405.75 L259.8,405.57 L260,405.55 L260.2,405.55 L260.4,405.7 L260.6,405.81 L260.8,405.54 L261,405.64 L261.2,405.87 L261.4,405.71 L261.6,405.95 L261.8,405.94 L262,405.66 L262.2,405.62 L262.4,405.56 L262.6,405.6 L262.8,405.86 L263,405.59 L263.2,405.47 L263.4,405.59 L263.6,405.66 L263.8,405.72 L264,405.78 L264.2,405.47 L264.4,405.24 L264.6,405.47 L264.8,404.94 L265,404.6 L265.2,404.41 L265.4,403.62 L265.6,403.23 L265.8,402.35 L266,401.35 L266.2,400.35 L266.4,399.76 L266.6,399.45 L266.8,398.9 L267,399.24 L267.2,399.66 L267.4,400.64 L267.6,401.45 L267.8,402.44 L268,403.21 L268.2,403.8 L268.4,404.38 L268.6,404.7 L268.8,404.94 L269,405.37 L269.2,405.25 L269.4,405.46 L269.6,405.65 L269.8,405.76 L270,405.45 L270.2,405.6 L270.4,405.88 L270.6,405.61 L270.8,405.75 L271,405.74 L271.2,405.59 L271.4,405.84 L271.6,405.82 L271.8,405.71 L272,405.55 L272.2,405.91 L272.4,405.59 L272.6,405.64 L272.8,405.88 L273,405.67 L273.2,405.69 L273.4,405.65 L273.6,405.72 L273.8,405.82 L274,405.74 L274.2,405.86 L274.4,405.76 L274.6,405.78 L274.8,405.91 L275,405.85 L275.2,405.79 L275.4,405.76 L275.6,405.68 L275.8,405.58 L276,405.76 L276.2,405.58 L276.4,405.61 L276.6,405.55 L276.8,405.45 L277,404.91 L277.2,404.7 L277.4,404.49 L277.6,404.51 L277.8,404.26 L278,404.06 L278.2,403.82 L278.4,403.71 L278.6,403.95 L278.8,403.92 L279,404.03 L279.2,404.22 L279.4,404.78 L279.6,405.11 L279.8,404.98 L280,405.35 L280.2,405.52 L280.4,405.69 L280.6,405.71 L280.8,405.76 L281,405.8 L281.2,405.83 L281.4,405.72 L281.6,405.6 L281.8,405.83 L282,405.78 L282.2,405.76 L282.4,405.6 L282.6,405.64 L282.8,405.54 L283,405.9 L283.2,405.63 L283.4,405.85 L283.6,405.73 L283.8,405.75 L284,405.73 L284.2,405.84 L284.4,405.95 L284.6,405.98 L284.8,405.58 L285,405.59 L285.2,405.78 L285.4,405.94 L285.6,405.61 L285.8,405.76 L286,405.77 L286.2,405.7 L286.4,405.9 L286.6,405.87 L286.8,405.61 L287,405.63 L287.2,405.51 L287.4,405.73 L287.6,405.46 L287.8,405.45 L288,405.55 L288.2,405.29 L288.4,405.49 L288.6,405.4 L288.8,404.92 L289,405.05 L289.2,404.73 L289.4,404.5 L289.6,404.43 L289.8,404.6 L290,404.38 L290.2,404.8 L290.4,404.7 L290.6,404.71 L290.8,405.03 L291,405.29 L291.2,405.12 L291.4,405.35 L291.6,405.41 L291.8,405.43 L292,405.46 L292.2,405.65 L292.4,405.56 L292.6,405.71 L292.8,405.83 L293,405.82 L293.2,405.83 L293.4,405.92 L293.6,405.65 L293.8,405.72 L294,405.46 L294.2,405.79 L294.4,405.4 L294.6,405.56 L294.8,405.38 L295,405.24 L295.2,404.76 L295.4,404.71 L295.6,404.59 L295.8,404.54 L296,404.46 L296.2,404.25 L296.4,403.98 L296.6,404.29 L296.8,404.32 L297,404.41 L297.2,404.97 L297.4,405.05 L297.6,405.18 L297.8,405.42 L298,405.48 L298.2,405.45 L298.4,405.76 L298.6,405.56 L298.8,405.77 L299,405.64 L299.2,405.86 L299.4,405.6 L299.6,405.77 L299.8,405.59 L300,405.53 L300.2,405.7 L300.4,405.95 L300.6,405.8 L300.8,405.53 L301,405.66 L301.2,405.61 L301.4,405.72 L301.6,405.5 L301.8,405.49 L302,405.58 L302.2,405.53 L302.4,405.66 L302.6,405.59 L302.8,405.35 L303,404.94 L303.2,404.67 L303.4,404.45 L303.6,404.15 L303.8,404.28 L304,404.08 L304.2,403.84 L304.4,403.9 L304.6,403.7 L304.8,403.69 L305,403.9 L305.2,404.5 L305.4,404.5 L305.6,404.75 L305.8,404.97 L306,405.27 L306.2,405.5 L306.4,405.33 L306.6,405.4 L306.8,405.55 L307,405.66 L307.2,405.91 L307.4,405.83 L307.6,405.85 L307.8,405.86 L308,405.88" fill="none" stroke="#f25a66" stroke-width="1.2" stroke-linejoin="round"/>
<path d="M60,455.31 L60.2,455.18 L60.4,455.25 L60.6,455.15 L60.8,455.14 L61,455.39 L61.2,455.41 L61.4,455.05 L61.6,455.3 L61.8,455.31 L62,454.98 L62.2,455.21 L62.4,455.05 L62.6,455.21 L62.8,455.14 L63,455.35 L63.2,455.14 L63.4,455.04 L63.6,455.19 L63.8,455.09 L64,455.12 L64.2,455.39 L64.4,455.08 L64.6,455.16 L64.8,455.28 L65,455.4 L65.2,455.04 L65.4,455.21 L65.6,455.1 L65.8,455.03 L66,455.1 L66.2,455.01 L66.4,455.24 L66.6,455.06 L66.8,455.22 L67,455.01 L67.2,455.03 L67.4,455.37 L67.6,455.36 L67.8,455.32 L68,454.99 L68.2,455.23 L68.4,455.14 L68.6,455.28 L68.8,455.19 L69,455.25 L69.2,455.26 L69.4,455.16 L69.6,455.16 L69.8,455.02 L70,455.12 L70.2,455.01 L70.4,455.04 L70.6,454.98 L70.8,455.12 L71,455.34 L71.2,455.04 L71.4,454.99 L71.6,455.02 L71.8,455.17 L72,455.1 L72.2,455.32 L72.4,455.05 L72.6,455.16 L72.8,455.29 L73,455.39 L73.2,455.04 L73.4,454.98 L73.6,455.38 L73.8,455.06 L74,455.24 L74.2,455.35 L74.4,455.29 L74.6,455.08 L74.8,455.03 L75,455.4 L75.2,455.15 L75.4,455.4 L75.6,455.1 L75.8,455.27 L76,455.03 L76.2,454.98 L76.4,455.19 L76.6,454.98 L76.8,455.28 L77,455.38 L77.2,455.15 L77.4,455.4 L77.6,455.33 L77.8,455.24 L78,455.15 L78.2,455.35 L78.4,455.4 L78.6,455.03 L78.8,455.28 L79,454.99 L79.2,455.02 L79.4,455.25 L79.6,455.21 L79.8,455.19 L80,455.13 L80.2,455.15 L80.4,455.17 L80.6,455.14 L80.8,455 L81,455.19 L81.2,455.23 L81.4,455.1 L81.6,455.31 L81.8,455.28 L82,454.98 L82.2,455.19 L82.4,455.17 L82.6,455.41 L82.8,455.23 L83,455.16 L83.2,455.41 L83.4,455.14 L83.6,455.14 L83.8,455.39 L84,455.14 L84.2,455.21 L84.4,455.12 L84.6,455.26 L84.8,455.1 L85,455.09 L85.2,455.4 L85.4,455.39 L85.6,455.12 L85.8,454.99 L86,455.3 L86.2,455.21 L86.4,455.15 L86.6,455.27 L86.8,455.25 L87,455.28 L87.2,455.25 L87.4,455.15 L87.6,455.28 L87.8,455.25 L88,455.07 L88.2,455.4 L88.4,455.16 L88.6,455.09 L88.8,455.28 L89,455.31 L89.2,455.06 L89.4,455.31 L89.6,455.33 L89.8,455.22 L90,455.11 L90.2,455.37 L90.4,455.27 L90.6,455.27 L90.8,455.04 L91,455.22 L91.2,455.04 L91.4,455.34 L91.6,455.26 L91.8,455.12 L92,455.02 L92.2,455.21 L92.4,455.31 L92.6,455.35 L92.8,455.17 L93,455.31 L93.2,455.03 L93.4,455 L93.6,455.26 L93.8,455.17 L94,454.89 L94.2,454.89 L94.4,454.74 L94.6,454.86 L94.8,454.87 L95,454.74 L95.2,454.47 L95.4,454.69 L95.6,454.67 L95.8,454.69 L96,454.75 L96.2,454.83 L96.4,454.69 L96.6,455.11 L96.8,455.24 L97,454.88 L97.2,454.95 L97.4,454.93 L97.6,455.19 L97.8,454.97 L98,454.99 L98.2,455.3 L98.4,455.07 L98.6,455.03 L98.8,455.11 L99,455.17 L99.2,455.27 L99.4,455.25 L99.6,455.3 L99.8,455.37 L100,455.14 L100.2,455.27 L100.4,455.04 L100.6,455.37 L100.8,454.99 L101,455.08 L101.2,454.98 L101.4,454.99 L101.6,454.99 L101.8,455.13 L102,455.37 L102.2,455.05 L102.4,455.3 L102.6,455.24 L102.8,455.07 L103,455.13 L103.2,455.17 L103.4,454.94 L103.6,455.07 L103.8,455.19 L104,455.22 L104.2,454.94 L104.4,455.1 L104.6,454.95 L104.8,455.12 L105,455.17 L105.2,454.99 L105.4,454.83 L105.6,455.06 L105.8,454.7 L106,454.45 L106.2,454.12 L106.4,453.39 L106.6,452.5 L106.8,450.34 L107,447.78 L107.2,445.49 L107.4,443.24 L107.6,442.39 L107.8,443.13 L108,445.32 L108.2,447.95 L108.4,450.27 L108.6,452.5 L108.8,453.73 L109,454.42 L109.2,454.8 L109.4,455.01 L109.6,454.7 L109.8,454.79 L110,455.11 L110.2,454.85 L110.4,454.8 L110.6,454.65 L110.8,454.56 L111,454.46 L111.2,454.62 L111.4,454.89 L111.6,455.11 L111.8,455.14 L112,455.28 L112.2,455.11 L112.4,455.04 L112.6,455.2 L112.8,455.33 L113,455.29 L113.2,455.21 L113.4,455.11 L113.6,455.03 L113.8,455.21 L114,455.02 L114.2,455.09 L114.4,455.16 L114.6,455.15 L114.8,455.04 L115,454.85 L115.2,454.84 L115.4,454.54 L115.6,454.46 L115.8,454.4 L116,454.17 L116.2,454.09 L116.4,454.44 L116.6,454.43 L116.8,454.61 L117,454.59 L117.2,454.72 L117.4,455.07 L117.6,454.91 L117.8,454.98 L118,455.19 L118.2,455.03 L118.4,455.02 L118.6,454.44 L118.8,454.09 L119,453.43 L119.2,452.82 L119.4,452.23 L119.6,451.71 L119.8,451.55 L120,451.85 L120.2,452.03 L120.4,452.88 L120.6,453.48 L120.8,453.81 L121,454.61 L121.2,454.93 L121.4,455.13 L121.6,454.9 L121.8,455.27 L122,455.36 L122.2,455.01 L122.4,455.33 L122.6,455.02 L122.8,455.09 L123,455.02 L123.2,454.97 L123.4,455.13 L123.6,455.03 L123.8,455.37 L124,455.05 L124.2,455.16 L124.4,455.07 L124.6,455.34 L124.8,455.05 L125,454.97 L125.2,455.35 L125.4,455.24 L125.6,455.13 L125.8,455.01 L126,455.27 L126.2,455.29 L126.4,455.26 L126.6,455.1 L126.8,455.04 L127,455.2 L127.2,455.2 L127.4,455.19 L127.6,455.21 L127.8,455.18 L128,455.32 L128.2,455.14 L128.4,454.93 L128.6,455.17 L128.8,455.02 L129,455.28 L129.2,455.04 L129.4,455.01 L129.6,455.04 L129.8,455.1 L130,455.11 L130.2,455.04 L130.4,454.92 L130.6,455.25 L130.8,455.26 L131,454.97 L131.2,454.89 L131.4,455.05 L131.6,455.08 L131.8,454.95 L132,455.17 L132.2,455.12 L132.4,455.14 L132.6,454.95 L132.8,455.05 L133,455.07 L133.2,454.84 L133.4,454.69 L133.6,454.95 L133.8,454.73 L134,454.81 L134.2,454.56 L134.4,454.61 L134.6,454.65 L134.8,454.53 L135,454.37 L135.2,453.73 L135.4,452.93 L135.6,451.5 L135.8,448.82 L136,444.86 L136.2,439.22 L136.4,433 L136.6,426.07 L136.8,421.22 L137,419.22 L137.2,421.23 L137.4,426.13 L137.6,432.7 L137.8,439.31 L138,444.78 L138.2,448.65 L138.4,451.18 L138.6,452.91 L138.8,453.59 L139,453.94 L139.2,454.39 L139.4,454.63 L139.6,454.72 L139.8,454.58 L140,454.65 L140.2,454.57 L140.4,454.65 L140.6,454.95 L140.8,454.99 L141,454.98 L141.2,455.02 L141.4,454.8 L141.6,454.74 L141.8,454.72 L142,455 L142.2,454.73 L142.4,454.96 L142.6,454.89 L142.8,454.73 L143,454.96 L143.2,454.86 L143.4,454.35 L143.6,454.25 L143.8,453.62 L144,452.52 L144.2,450.98 L144.4,449.27 L144.6,446.78 L144.8,444.41 L145,442.61 L145.2,442.05 L145.4,442.57 L145.6,444.19 L145.8,446.77 L146,449.06 L146.2,451.25 L146.4,452.68 L146.6,453.52 L146.8,454.37 L147,454.38 L147.2,454.55 L147.4,455.01 L147.6,454.7 L147.8,454.99 L148,454.84 L148.2,454.87 L148.4,455.09 L148.6,454.94 L148.8,454.96 L149,454.91 L149.2,455.15 L149.4,454.95 L149.6,454.86 L149.8,455 L150,455.06 L150.2,455.25 L150.4,455.09 L150.6,455.15 L150.8,455 L151,455.02 L151.2,455.07 L151.4,455.24 L151.6,455.04 L151.8,455.04 L152,455.24 L152.2,454.93 L152.4,455.03 L152.6,455.27 L152.8,454.91 L153,455.26 L153.2,455.17 L153.4,455 L153.6,455.05 L153.8,455.07 L154,455.03 L154.2,455.11 L154.4,455.17 L154.6,455.23 L154.8,455.27 L155,454.98 L155.2,454.96 L155.4,455.05 L155.6,454.96 L155.8,455.12 L156,455.16 L156.2,455.1 L156.4,454.87 L156.6,455.23 L156.8,455.02 L157,455.12 L157.2,454.88 L157.4,455.05 L157.6,455.04 L157.8,454.99 L158,454.91 L158.2,454.79 L158.4,454.95 L158.6,454.7 L158.8,454.99 L159,454.88 L159.2,454.9 L159.4,454.84 L159.6,454.47 L159.8,454.4 L160,454.5 L160.2,454.27 L160.4,453.78 L160.6,452.93 L160.8,451.65 L161,449.59 L161.2,446.4 L161.4,441.97 L161.6,435.96 L161.8,429.38 L162,422.8 L162.2,417.97 L162.4,416.31 L162.6,418.11 L162.8,422.69 L163,429.46 L163.2,435.78 L163.4,441.65 L163.6,446.24 L163.8,449.75 L164,451.77 L164.2,453 L164.4,453.69 L164.6,453.93 L164.8,454.28 L165,454.59 L165.2,454.44 L165.4,454.68 L165.6,454.69 L165.8,454.68 L166,455.04 L166.2,454.74 L166.4,454.82 L166.6,454.92 L166.8,454.93 L167,454.98 L167.2,455.11 L167.4,454.98 L167.6,455.21 L167.8,455.02 L168,454.97 L168.2,455.07 L168.4,455.02 L168.6,454.86 L168.8,454.89 L169,455.23 L169.2,454.95 L169.4,455.03 L169.6,455.29 L169.8,455.16 L170,455.22 L170.2,455.29 L170.4,455.09 L170.6,454.92 L170.8,455.19 L171,454.95 L171.2,455.03 L171.4,455.28 L171.6,454.97 L171.8,455.08 L172,454.94 L172.2,455.04 L172.4,455.03 L172.6,455.2 L172.8,455 L173,454.95 L173.2,454.98 L173.4,455.17 L173.6,455.03 L173.8,455.15 L174,455.32 L174.2,455.35 L174.4,455.33 L174.6,455.28 L174.8,455.3 L175,455.15 L175.2,455.06 L175.4,455.13 L175.6,455.19 L175.8,455.09 L176,455.24 L176.2,455.16 L176.4,455.03 L176.6,455.17 L176.8,455.23 L177,454.85 L177.2,454.84 L177.4,454.85 L177.6,454.68 L177.8,454.43 L178,454.24 L178.2,454.3 L178.4,454.38 L178.6,454.36 L178.8,454.25 L179,454.71 L179.2,454.75 L179.4,455.02 L179.6,455.12 L179.8,455.22 L180,455.16 L180.2,455.28 L180.4,455.35 L180.6,455.32 L180.8,455.3 L181,455.15 L181.2,455.34 L181.4,455.36 L181.6,455.17 L181.8,455.19 L182,455.06 L182.2,455.34 L182.4,455.19 L182.6,455.19 L182.8,455.35 L183,454.93 L183.2,455.26 L183.4,455.31 L183.6,455.14 L183.8,455.28 L184,455.08 L184.2,455.19 L184.4,455.29 L184.6,455.32 L184.8,455.02 L185,455.21 L185.2,454.98 L185.4,455.12 L185.6,454.91 L185.8,455.18 L186,455.2 L186.2,455.18 L186.4,454.93 L186.6,455 L186.8,455.12 L187,455.21 L187.2,454.94 L187.4,454.8 L187.6,454.94 L187.8,455.17 L188,455.13 L188.2,455.05 L188.4,454.94 L188.6,454.88 L188.8,454.66 L189,454.03 L189.2,453.33 L189.4,452.73 L189.6,451.07 L189.8,449.56 L190,447.33 L190.2,445.03 L190.4,442.94 L190.6,441.83 L190.8,441.15 L191,441.58 L191.2,442.94 L191.4,445.4 L191.6,447.55 L191.8,449.39 L192,451.45 L192.2,452.64 L192.4,453.58 L192.6,454.01 L192.8,454.27 L193,454.81 L193.2,454.68 L193.4,454.76 L193.6,454.76 L193.8,454.92 L194,454.78 L194.2,455.04 L194.4,455.04 L194.6,455.13 L194.8,454.9 L195,455.04 L195.2,455.15 L195.4,455.2 L195.6,454.96 L195.8,455.02 L196,454.97 L196.2,455.12 L196.4,455.08 L196.6,455.23 L196.8,454.98 L197,455.29 L197.2,455.09 L197.4,454.96 L197.6,455 L197.8,455.25 L198,455.19 L198.2,454.92 L198.4,455.01 L198.6,454.9 L198.8,454.9 L199,455.09 L199.2,454.89 L199.4,454.95 L199.6,455.12 L199.8,455.1 L200,455.23 L200.2,455.08 L200.4,454.82 L200.6,455.19 L200.8,454.98 L201,455.17 L201.2,455.17 L201.4,454.9 L201.6,455.06 L201.8,455.13 L202,455.06 L202.2,454.82 L202.4,454.82 L202.6,455.04 L202.8,454.91 L203,454.54 L203.2,454.81 L203.4,454.58 L203.6,454.54 L203.8,454.22 L204,454.04 L204.2,453.52 L204.4,452.9 L204.6,451.88 L204.8,450.07 L205,447.52 L205.2,443.73 L205.4,439.8 L205.6,435.13 L205.8,430.08 L206,426.6 L206.2,424.09 L206.4,424.45 L206.6,426.48 L206.8,430.41 L207,434.78 L207.2,439.58 L207.4,443.81 L207.6,447.22 L207.8,449.77 L208,451.81 L208.2,452.87 L208.4,453.67 L208.6,454.26 L208.8,454.2 L209,454.46 L209.2,454.47 L209.4,454.81 L209.6,454.72 L209.8,454.8 L210,454.72 L210.2,455.04 L210.4,454.95 L210.6,454.92 L210.8,455.12 L211,454.93 L211.2,454.86 L211.4,455.01 L211.6,454.93 L211.8,454.96 L212,455.14 L212.2,455.09 L212.4,454.81 L212.6,455.11 L212.8,455.07 L213,455.23 L213.2,455.17 L213.4,455.2 L213.6,454.86 L213.8,454.95 L214,454.89 L214.2,454.84 L214.4,455 L214.6,454.86 L214.8,455.03 L215,455.07 L215.2,454.83 L215.4,454.83 L215.6,454.78 L215.8,454.93 L216,454.71 L216.2,454.73 L216.4,454.25 L216.6,453.96 L216.8,453.8 L217,452.97 L217.2,452.68 L217.4,452.07 L217.6,451.21 L217.8,450.98 L218,450.73 L218.2,450.83 L218.4,451.51 L218.6,451.79 L218.8,452.64 L219,453.2 L219.2,453.79 L219.4,454.05 L219.6,454.38 L219.8,454.8 L220,455.03 L220.2,455.03 L220.4,455.04 L220.6,455.22 L220.8,455.21 L221,454.96 L221.2,454.99 L221.4,454.88 L221.6,454.88 L221.8,454.93 L222,455.16 L222.2,455.26 L222.4,455.19 L222.6,455.13 L222.8,455.11 L223,455.1 L223.2,455.18 L223.4,454.97 L223.6,455.22 L223.8,455.14 L224,454.95 L224.2,454.99 L224.4,455.21 L224.6,455.24 L224.8,454.99 L225,455.34 L225.2,455.29 L225.4,455.11 L225.6,455.11 L225.8,455.27 L226,455.32 L226.2,455.25 L226.4,455 L226.6,455.13 L226.8,454.9 L227,454.99 L227.2,454.9 L227.4,455.31 L227.6,455.24 L227.8,455.32 L228,455.13 L228.2,455.17 L228.4,455.29 L228.6,455.06 L228.8,455.26 L229,455.16 L229.2,455.18 L229.4,454.93 L229.6,455.09 L229.8,455.15 L230,455.23 L230.2,455.05 L230.4,454.95 L230.6,454.91 L230.8,454.78 L231,454.8 L231.2,455.02 L231.4,455.02 L231.6,454.67 L231.8,454.55 L232,454.49 L232.2,454.05 L232.4,453.72 L232.6,453.18 L232.8,452.29 L233,451.14 L233.2,449.39 L233.4,447.62 L233.6,445.93 L233.8,444.63 L234,443.5 L234.2,442.99 L234.4,443.42 L234.6,444.54 L234.8,446.1 L235,447.72 L235.2,449.52 L235.4,450.97 L235.6,451.95 L235.8,452.72 L236,453.56 L236.2,454.04 L236.4,454.32 L236.6,454.4 L236.8,454.28 L237,454.38 L237.2,454.01 L237.4,454.08 L237.6,453.53 L237.8,452.72 L238,451.72 L238.2,450.12 L238.4,448.37 L238.6,446.27 L238.8,444.24 L239,442.42 L239.2,440.53 L239.4,439.61 L239.6,439.64 L239.8,440.68 L240,442.15 L240.2,444.15 L240.4,446.69 L240.6,448.51 L240.8,450.42 L241,451.77 L241.2,452.67 L241.4,453.39 L241.6,454.02 L241.8,454.54 L242,454.42 L242.2,454.87 L242.4,454.86 L242.6,454.72 L242.8,454.98 L243,455.03 L243.2,454.76 L243.4,454.78 L243.6,455.08 L243.8,455.06 L244,455.12 L244.2,455.2 L244.4,455.16 L244.6,454.85 L244.8,455.25 L245,455.19 L245.2,455.21 L245.4,455.27 L245.6,455.08 L245.8,454.99 L246,454.95 L246.2,455.05 L246.4,454.97 L246.6,455.33 L246.8,455.22 L247,454.92 L247.2,455.32 L247.4,455.23 L247.6,455.14 L247.8,455.24 L248,455.12 L248.2,455.34 L248.4,455.26 L248.6,454.94 L248.8,455.3 L249,454.97 L249.2,455.29 L249.4,454.93 L249.6,455.07 L249.8,455.09 L250,455.31 L250.2,455.35 L250.4,455.04 L250.6,455.3 L250.8,455.29 L251,455.01 L251.2,454.99 L251.4,455.36 L251.6,454.96 L251.8,455.14 L252,455.21 L252.2,455.33 L252.4,455.21 L252.6,454.95 L252.8,455.26 L253,455.32 L253.2,455.32 L253.4,455.33 L253.6,455.23 L253.8,454.98 L254,455.35 L254.2,455.3 L254.4,454.97 L254.6,454.94 L254.8,454.95 L255,455.27 L255.2,455.23 L255.4,454.96 L255.6,455.17 L255.8,455.07 L256,455.24 L256.2,455.37 L256.4,455.23 L256.6,455.05 L256.8,455.04 L257,455.13 L257.2,455.18 L257.4,455.14 L257.6,455.18 L257.8,455.14 L258,455.01 L258.2,455.29 L258.4,455.11 L258.6,454.96 L258.8,455 L259,455.29 L259.2,454.95 L259.4,455 L259.6,455.29 L259.8,455.25 L260,455.28 L260.2,455.34 L260.4,454.93 L260.6,455.18 L260.8,454.97 L261,455.3 L261.2,455.34 L261.4,454.96 L261.6,454.99 L261.8,454.9 L262,455.03 L262.2,455.09 L262.4,454.98 L262.6,455.27 L262.8,455.06 L263,455.1 L263.2,455.21 L263.4,455 L263.6,455.1 L263.8,454.99 L264,455 L264.2,454.95 L264.4,454.83 L264.6,454.55 L264.8,454.12 L265,453.77 L265.2,453.28 L265.4,452.61 L265.6,452 L265.8,450.71 L266,449.96 L266.2,448.98 L266.4,447.92 L266.6,447.2 L266.8,447.15 L267,447.24 L267.2,448.02 L267.4,448.61 L267.6,449.88 L267.8,450.93 L268,451.89 L268.2,452.59 L268.4,453.22 L268.6,453.94 L268.8,454.36 L269,454.54 L269.2,454.95 L269.4,454.9 L269.6,454.79 L269.8,454.86 L270,455.21 L270.2,454.88 L270.4,455.1 L270.6,454.85 L270.8,455.13 L271,455.21 L271.2,455.07 L271.4,454.93 L271.6,455.13 L271.8,454.94 L272,455.02 L272.2,455.17 L272.4,455.2 L272.6,455.12 L272.8,455.16 L273,455.18 L273.2,455.05 L273.4,454.96 L273.6,455.08 L273.8,455.28 L274,455.24 L274.2,455.18 L274.4,455.07 L274.6,455.27 L274.8,455.29 L275,455.18 L275.2,455.19 L275.4,455.29 L275.6,455.05 L275.8,454.85 L276,454.97 L276.2,454.81 L276.4,454.66 L276.6,454.49 L276.8,454.25 L277,454.18 L277.2,453.74 L277.4,453.6 L277.6,452.86 L277.8,452.68 L278,452.3 L278.2,451.88 L278.4,452.07 L278.6,452.19 L278.8,452.15 L279,452.59 L279.2,453.21 L279.4,453.64 L279.6,453.89 L279.8,454.37 L280,454.29 L280.2,454.79 L280.4,454.9 L280.6,454.96 L280.8,454.98 L281,455.07 L281.2,455.01 L281.4,455.02 L281.6,455.13 L281.8,455.29 L282,454.91 L282.2,455.04 L282.4,455.31 L282.6,455.16 L282.8,455.02 L283,454.92 L283.2,455.33 L283.4,455.36 L283.6,455.15 L283.8,455.18 L284,454.97 L284.2,455 L284.4,455.22 L284.6,455.18 L284.8,455.1 L285,454.97 L285.2,455.27 L285.4,455.18 L285.6,455.32 L285.8,455.07 L286,455.34 L286.2,454.93 L286.4,455.11 L286.6,455.08 L286.8,455.28 L287,455.19 L287.2,455.06 L287.4,454.84 L287.6,454.91 L287.8,454.93 L288,454.48 L288.2,454.43 L288.4,454.25 L288.6,454.11 L288.8,453.75 L289,453.15 L289.2,453.16 L289.4,452.71 L289.6,452.48 L289.8,452.53 L290,452.41 L290.2,452.54 L290.4,452.84 L290.6,453.21 L290.8,453.78 L291,454.17 L291.2,454.28 L291.4,454.57 L291.6,454.81 L291.8,454.65 L292,455.03 L292.2,454.83 L292.4,454.82 L292.6,455.21 L292.8,454.87 L293,455.1 L293.2,455.18 L293.4,455.18 L293.6,455.22 L293.8,454.98 L294,454.96 L294.2,454.66 L294.4,454.54 L294.6,454.7 L294.8,454.31 L295,454.02 L295.2,453.78 L295.4,453.39 L295.6,453.01 L295.8,452.49 L296,452.39 L296.2,452.35 L296.4,452.31 L296.6,452.35 L296.8,452.55 L297,453.02 L297.2,453.19 L297.4,453.77 L297.6,453.91 L297.8,454.22 L298,454.65 L298.2,454.58 L298.4,454.88 L298.6,454.91 L298.8,454.95 L299,454.98 L299.2,455.08 L299.4,455.27 L299.6,454.96 L299.8,454.94 L300,455.1 L300.2,455.06 L300.4,455.2 L300.6,454.92 L300.8,455.01 L301,455.21 L301.2,454.94 L301.4,454.85 L301.6,455.11 L301.8,454.78 L302,454.95 L302.2,454.99 L302.4,454.63 L302.6,454.62 L302.8,454.22 L303,454 L303.2,453.87 L303.4,453.32 L303.6,452.79 L303.8,452.58 L304,452.25 L304.2,451.89 L304.4,452 L304.6,452.06 L304.8,452.23 L305,452.43 L305.2,453.08 L305.4,453.51 L305.6,453.59 L305.8,454.02 L306,454.42 L306.2,454.39 L306.4,454.57 L306.6,454.85 L306.8,454.74 L307,454.87 L307.2,454.95 L307.4,455.18 L307.6,455.32 L307.8,455.04 L308,455.03" fill="none" stroke="#45b87a" stroke-width="1.2" stroke-linejoin="round"/>
<path d="M107.6,335.2 L109.7,337.3 L107.6,339.4 L105.5,337.3 Z" fill="#1e6ad8"/>
<path d="M137,315.6 L139.1,317.7 L137,319.8 L134.9,317.7 Z" fill="#1e6ad8"/>
<path d="M145.2,335.5 L147.3,337.6 L145.2,339.7 L143.1,337.6 Z" fill="#1e6ad8"/>
<path d="M162.4,306.3 L164.5,308.4 L162.4,310.5 L160.3,308.4 Z" fill="#1e6ad8"/>
<path d="M190.8,335.2 L192.9,337.3 L190.8,339.4 L188.7,337.3 Z" fill="#1e6ad8"/>
<path d="M206.3,320.4 L208.4,322.5 L206.3,324.6 L204.2,322.5 Z" fill="#1e6ad8"/>
<path d="M218,346.6 L220.1,348.7 L218,350.8 L215.9,348.7 Z" fill="#1e6ad8"/>
<path d="M234.2,338.8 L236.3,340.9 L234.2,343 L232.1,340.9 Z" fill="#1e6ad8"/>
<path d="M239.5,333.5 L241.6,335.6 L239.5,337.7 L237.4,335.6 Z" fill="#1e6ad8"/>
<path d="M266.8,343.1 L268.9,345.2 L266.8,347.3 L264.7,345.2 Z" fill="#1e6ad8"/>
<path d="M278.4,347.5 L280.5,349.6 L278.4,351.7 L276.3,349.6 Z" fill="#1e6ad8"/>
<path d="M289.8,347.5 L291.9,349.6 L289.8,351.7 L287.7,349.6 Z" fill="#1e6ad8"/>
<path d="M296.3,347.5 L298.4,349.6 L296.3,351.7 L294.2,349.6 Z" fill="#1e6ad8"/>
<path d="M304.4,346.6 L306.5,348.7 L304.4,350.8 L302.3,348.7 Z" fill="#1e6ad8"/>
<path d="M107.6,388.9 L109.7,391 L107.6,393.1 L105.5,391 Z" fill="#c4001c"/>
<path d="M137,363.5 L139.1,365.6 L137,367.7 L134.9,365.6 Z" fill="#c4001c"/>
<path d="M145.2,389.6 L147.3,391.7 L145.2,393.8 L143.1,391.7 Z" fill="#c4001c"/>
<path d="M162.4,361.2 L164.5,363.3 L162.4,365.4 L160.3,363.3 Z" fill="#c4001c"/>
<path d="M190.8,386.9 L192.9,389 L190.8,391.1 L188.7,389 Z" fill="#c4001c"/>
<path d="M206.3,368.3 L208.4,370.4 L206.3,372.5 L204.2,370.4 Z" fill="#c4001c"/>
<path d="M218,397.7 L220.1,399.8 L218,401.9 L215.9,399.8 Z" fill="#c4001c"/>
<path d="M234.2,390.7 L236.3,392.8 L234.2,394.9 L232.1,392.8 Z" fill="#c4001c"/>
<path d="M239.5,386 L241.6,388.1 L239.5,390.2 L237.4,388.1 Z" fill="#c4001c"/>
<path d="M266.8,394 L268.9,396.1 L266.8,398.2 L264.7,396.1 Z" fill="#c4001c"/>
<path d="M278.4,398.6 L280.5,400.7 L278.4,402.8 L276.3,400.7 Z" fill="#c4001c"/>
<path d="M289.8,399.4 L291.9,401.5 L289.8,403.6 L287.7,401.5 Z" fill="#c4001c"/>
<path d="M296.3,399.1 L298.4,401.2 L296.3,403.3 L294.2,401.2 Z" fill="#c4001c"/>
<path d="M304.4,398.6 L306.5,400.7 L304.4,402.8 L302.3,400.7 Z" fill="#c4001c"/>
<path d="M107.6,437.2 L109.7,439.3 L107.6,441.4 L105.5,439.3 Z" fill="#22a040"/>
<path d="M137,414.2 L139.1,416.3 L137,418.4 L134.9,416.3 Z" fill="#22a040"/>
<path d="M145.2,436.9 L147.3,439 L145.2,441.1 L143.1,439 Z" fill="#22a040"/>
<path d="M162.4,411.1 L164.5,413.2 L162.4,415.3 L160.3,413.2 Z" fill="#22a040"/>
<path d="M190.8,436 L192.9,438.1 L190.8,440.2 L188.7,438.1 Z" fill="#22a040"/>
<path d="M206.3,418.9 L208.4,421 L206.3,423.1 L204.2,421 Z" fill="#22a040"/>
<path d="M218,445.7 L220.1,447.8 L218,449.9 L215.9,447.8 Z" fill="#22a040"/>
<path d="M234.2,438.2 L236.3,440.3 L234.2,442.4 L232.1,440.3 Z" fill="#22a040"/>
<path d="M239.5,434.5 L241.6,436.6 L239.5,438.7 L237.4,436.6 Z" fill="#22a040"/>
<path d="M266.8,442 L268.9,444.1 L266.8,446.2 L264.7,444.1 Z" fill="#22a040"/>
<path d="M278.4,446.9 L280.5,449 L278.4,451.1 L276.3,449 Z" fill="#22a040"/>
<path d="M289.8,447.4 L291.9,449.5 L289.8,451.6 L287.7,449.5 Z" fill="#22a040"/>
<path d="M296.3,447.1 L298.4,449.2 L296.3,451.3 L294.2,449.2 Z" fill="#22a040"/>
<path d="M304.4,446.9 L306.5,449 L304.4,451.1 L302.3,449 Z" fill="#22a040"/>
<text x="222.2" y="321" font-size="9" font-weight="bold" fill="#2424ee" text-anchor="start" stroke="#2424ee" stroke-width="0.2">Al<tspan font-size="5.85" dy="2.25">2</tspan><tspan dy="-2.25">O</tspan><tspan font-size="5.85" dy="2.25">3</tspan><tspan dy="-2.25"> porous ceramic</tspan></text>
<text x="211.5" y="372.3" font-size="9" font-weight="bold" fill="#d83434" text-anchor="start" stroke="#d83434" stroke-width="0.2">Al<tspan font-size="5.85" dy="2.25">2</tspan><tspan dy="-2.25">O</tspan><tspan font-size="5.85" dy="2.25">3</tspan><tspan dy="-2.25"> porous green body</tspan></text>
<text x="234.8" y="424" font-size="9" font-weight="bold" fill="#1e902e" text-anchor="start" stroke="#1e902e" stroke-width="0.2">Al<tspan font-size="5.85" dy="2.25">2</tspan><tspan dy="-2.25">O</tspan><tspan font-size="5.85" dy="2.25">3</tspan><tspan dy="-2.25"> raw powder</tspan></text>
<text x="236.8" y="470" font-size="8.7" font-weight="bold" fill="#222" text-anchor="start" stroke="#222" stroke-width="0.2">Al<tspan font-size="5.65" dy="2.17">2</tspan><tspan dy="-2.17">O</tspan><tspan font-size="5.65" dy="2.17">3</tspan><tspan dy="-2.17"> NO.10-0173</tspan></text>
<line x1="108" y1="473.1" x2="108" y2="501.6" stroke="#222" stroke-width="1.1"/>
<circle cx="108" cy="470.6" r="1.7" fill="#111"/>
<line x1="137.9" y1="469.3" x2="137.9" y2="501.6" stroke="#222" stroke-width="1.1"/>
<circle cx="137.9" cy="466.8" r="1.7" fill="#111"/>
<line x1="146" y1="482.5" x2="146" y2="501.6" stroke="#222" stroke-width="1.1"/>
<circle cx="146" cy="480" r="1.7" fill="#111"/>
<line x1="158" y1="494.5" x2="158" y2="501.6" stroke="#222" stroke-width="1.1"/>
<circle cx="158" cy="492" r="1.7" fill="#111"/>
<line x1="163.4" y1="466.8" x2="163.4" y2="501.6" stroke="#222" stroke-width="1.1"/>
<circle cx="163.4" cy="464.3" r="1.7" fill="#111"/>
<line x1="172.2" y1="493.4" x2="172.2" y2="501.6" stroke="#222" stroke-width="1.1"/>
<circle cx="172.2" cy="490.9" r="1.7" fill="#111"/>
<line x1="192.2" y1="481.6" x2="192.2" y2="501.6" stroke="#222" stroke-width="1.1"/>
<circle cx="192.2" cy="479.1" r="1.7" fill="#111"/>
<line x1="207.7" y1="471.7" x2="207.7" y2="501.6" stroke="#222" stroke-width="1.1"/>
<circle cx="207.7" cy="469.2" r="1.7" fill="#111"/>
<line x1="214.5" y1="493" x2="214.5" y2="501.6" stroke="#222" stroke-width="1.1"/>
<circle cx="214.5" cy="490.5" r="1.7" fill="#111"/>
<line x1="219.5" y1="491.7" x2="219.5" y2="501.6" stroke="#222" stroke-width="1.1"/>
<circle cx="219.5" cy="489.2" r="1.7" fill="#111"/>
<line x1="235.5" y1="486" x2="235.5" y2="501.6" stroke="#222" stroke-width="1.1"/>
<circle cx="235.5" cy="483.5" r="1.7" fill="#111"/>
<line x1="240.8" y1="480.5" x2="240.8" y2="501.6" stroke="#222" stroke-width="1.1"/>
<circle cx="240.8" cy="478" r="1.7" fill="#111"/>
<line x1="247.5" y1="493" x2="247.5" y2="501.6" stroke="#222" stroke-width="1.1"/>
<circle cx="247.5" cy="490.5" r="1.7" fill="#111"/>
<line x1="259.6" y1="493.2" x2="259.6" y2="501.6" stroke="#222" stroke-width="1.1"/>
<circle cx="259.6" cy="490.7" r="1.7" fill="#111"/>
<line x1="267.3" y1="489.7" x2="267.3" y2="501.6" stroke="#222" stroke-width="1.1"/>
<circle cx="267.3" cy="487.2" r="1.7" fill="#111"/>
<line x1="269.7" y1="491.9" x2="269.7" y2="501.6" stroke="#222" stroke-width="1.1"/>
<circle cx="269.7" cy="489.4" r="1.7" fill="#111"/>
<line x1="279.5" y1="492.1" x2="279.5" y2="501.6" stroke="#222" stroke-width="1.1"/>
<circle cx="279.5" cy="489.6" r="1.7" fill="#111"/>
<line x1="287.6" y1="493.6" x2="287.6" y2="501.6" stroke="#222" stroke-width="1.1"/>
<circle cx="287.6" cy="491.1" r="1.7" fill="#111"/>
<line x1="291.1" y1="491" x2="291.1" y2="501.6" stroke="#222" stroke-width="1.1"/>
<circle cx="291.1" cy="488.5" r="1.7" fill="#111"/>
<line x1="293.3" y1="493.2" x2="293.3" y2="501.6" stroke="#222" stroke-width="1.1"/>
<circle cx="293.3" cy="490.7" r="1.7" fill="#111"/>
<line x1="297.9" y1="492.5" x2="297.9" y2="501.6" stroke="#222" stroke-width="1.1"/>
<circle cx="297.9" cy="490" r="1.7" fill="#111"/>
<line x1="305.1" y1="492.1" x2="305.1" y2="501.6" stroke="#222" stroke-width="1.1"/>
<circle cx="305.1" cy="489.6" r="1.7" fill="#111"/>
<rect x="406.4" y="301.6" width="273.2" height="200" fill="none" stroke="#333" stroke-width="1.2"/>
<line x1="402.6" y1="501.6" x2="406.4" y2="501.6" stroke="#333" stroke-width="1"/>
<text x="400.5" y="505.2" font-size="11" font-weight="bold" fill="#222" text-anchor="end" stroke="#222" stroke-width="0.2">0</text>
<line x1="404.4" y1="487.31" x2="406.4" y2="487.31" stroke="#333" stroke-width="1"/>
<line x1="402.6" y1="473.03" x2="406.4" y2="473.03" stroke="#333" stroke-width="1"/>
<text x="400.5" y="476.63" font-size="11" font-weight="bold" fill="#222" text-anchor="end" stroke="#222" stroke-width="0.2">20</text>
<line x1="404.4" y1="458.74" x2="406.4" y2="458.74" stroke="#333" stroke-width="1"/>
<line x1="402.6" y1="444.46" x2="406.4" y2="444.46" stroke="#333" stroke-width="1"/>
<text x="400.5" y="448.06" font-size="11" font-weight="bold" fill="#222" text-anchor="end" stroke="#222" stroke-width="0.2">40</text>
<line x1="404.4" y1="430.17" x2="406.4" y2="430.17" stroke="#333" stroke-width="1"/>
<line x1="402.6" y1="415.89" x2="406.4" y2="415.89" stroke="#333" stroke-width="1"/>
<text x="400.5" y="419.49" font-size="11" font-weight="bold" fill="#222" text-anchor="end" stroke="#222" stroke-width="0.2">60</text>
<line x1="404.4" y1="401.6" x2="406.4" y2="401.6" stroke="#333" stroke-width="1"/>
<line x1="402.6" y1="387.31" x2="406.4" y2="387.31" stroke="#333" stroke-width="1"/>
<text x="400.5" y="390.91" font-size="11" font-weight="bold" fill="#222" text-anchor="end" stroke="#222" stroke-width="0.2">80</text>
<line x1="404.4" y1="373.03" x2="406.4" y2="373.03" stroke="#333" stroke-width="1"/>
<line x1="402.6" y1="358.74" x2="406.4" y2="358.74" stroke="#333" stroke-width="1"/>
<text x="400.5" y="362.34" font-size="11" font-weight="bold" fill="#222" text-anchor="end" stroke="#222" stroke-width="0.2">100</text>
<line x1="404.4" y1="344.46" x2="406.4" y2="344.46" stroke="#333" stroke-width="1"/>
<line x1="402.6" y1="330.17" x2="406.4" y2="330.17" stroke="#333" stroke-width="1"/>
<text x="400.5" y="333.77" font-size="11" font-weight="bold" fill="#222" text-anchor="end" stroke="#222" stroke-width="0.2">120</text>
<line x1="404.4" y1="315.89" x2="406.4" y2="315.89" stroke="#333" stroke-width="1"/>
<line x1="402.6" y1="301.6" x2="406.4" y2="301.6" stroke="#333" stroke-width="1"/>
<text x="400.5" y="305.2" font-size="11" font-weight="bold" fill="#222" text-anchor="end" stroke="#222" stroke-width="0.2">140</text>
<text x="377.4" y="400.2" font-size="12.5" font-weight="bold" fill="#222" text-anchor="middle" transform="rotate(-90 377.4 400.2)" stroke="#222" stroke-width="0.2">Contact Angle(degree)</text>
<text x="359.8" y="291.2" font-size="20.5" font-weight="bold" fill="#111" text-anchor="start" stroke="#111" stroke-width="0.2">(d)</text>
<rect x="454.5" y="435.7" width="40.6" height="65.9" fill="#24c4b2" stroke="#4c5c58" stroke-width="0.8"/>
<rect x="590.6" y="345.4" width="41.8" height="156.2" fill="#b2e8d8" stroke="#7a8884" stroke-width="0.8"/>
<line x1="474.8" y1="501.6" x2="474.8" y2="505.6" stroke="#333" stroke-width="1"/>
<line x1="611.2" y1="501.6" x2="611.2" y2="505.6" stroke="#333" stroke-width="1"/>
<text x="473.5" y="517.8" font-size="11.7" font-weight="bold" fill="#222" text-anchor="middle" stroke="#222" stroke-width="0.2">Raw Al<tspan font-size="7.6" dy="2.92">2</tspan><tspan dy="-2.92">O</tspan><tspan font-size="7.6" dy="2.92">3</tspan></text>
<text x="612.3" y="517.8" font-size="11.5" font-weight="bold" fill="#222" text-anchor="middle" stroke="#222" stroke-width="0.2">Hydrophobic Al<tspan font-size="7.48" dy="2.88">2</tspan><tspan dy="-2.88">O</tspan><tspan font-size="7.48" dy="2.88">3</tspan></text>
<defs><linearGradient id="g1" x1="0" y1="0" x2="0" y2="1"><stop offset="0" stop-color="#1c1c1c"/><stop offset="0.55" stop-color="#222"/><stop offset="0.62" stop-color="#6a6a6a"/><stop offset="0.8" stop-color="#3a3a3a"/><stop offset="1" stop-color="#1e1e1e"/></linearGradient></defs>
<rect x="454.7" y="417.4" width="40.5" height="18.5" fill="url(#g1)"/>
<path d="M461.5,417.6 C465,417.4 464.5,411.4 475.2,411.3 C485.9,411.4 485.4,417.4 489,417.6 L487,424 C485.5,431 481,433.8 475.2,433.8 C469.4,433.8 465,431 463.4,424 Z" fill="#1e1e1e"/>
<rect x="471.7" y="396.8" width="4.6" height="7" rx="1.5" fill="#333"/>
<rect x="591.6" y="332.5" width="39.1" height="12.5" fill="#1a1a1a"/>
<circle cx="609.9" cy="328.6" r="11.3" fill="#1f1f1f"/>
<ellipse cx="609.6" cy="329.6" rx="3.7" ry="2.3" fill="#f4f4f4"/>
<rect x="606.6" y="302" width="5" height="5.6" rx="1.5" fill="#3a3a3a"/>
</svg>
</body></html>
